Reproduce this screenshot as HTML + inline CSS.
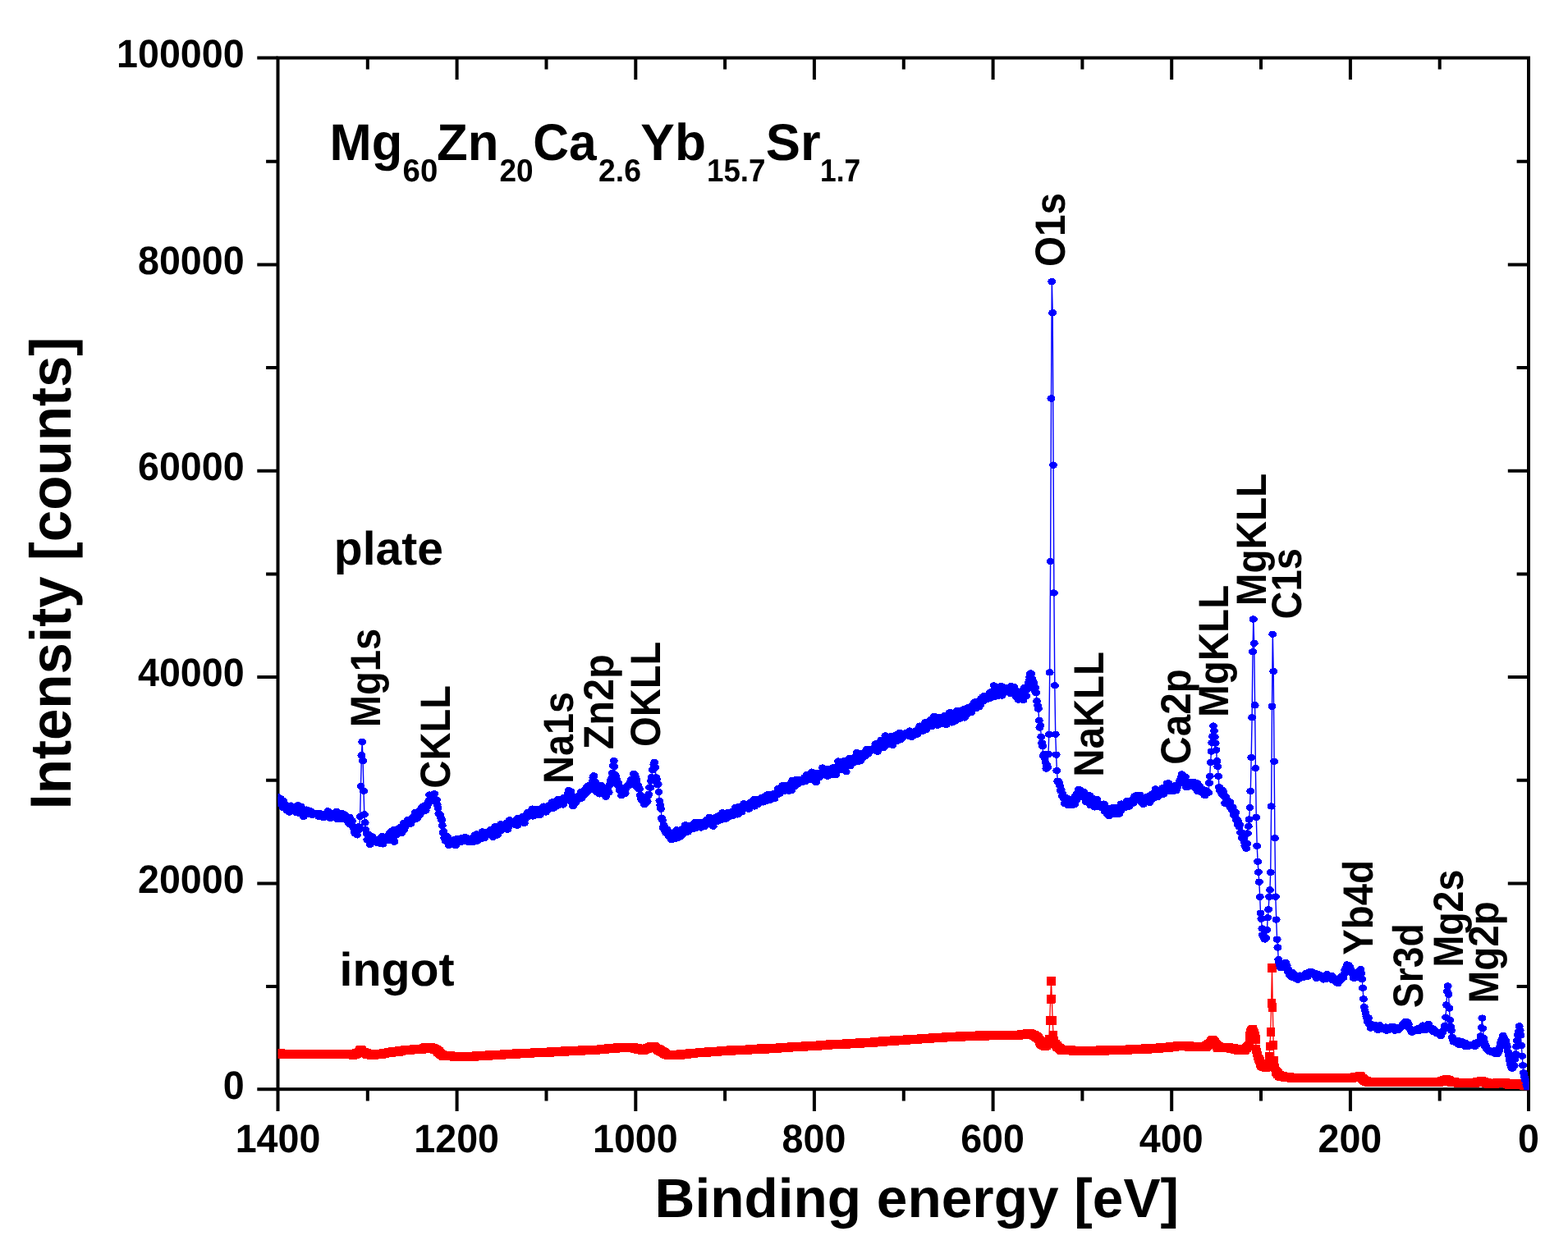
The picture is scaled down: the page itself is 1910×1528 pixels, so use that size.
<!DOCTYPE html>
<html lang="en">
<head>
<meta charset="utf-8">
<title>XPS survey spectra</title>
<style>
html,body{margin:0;padding:0;background:#fff;}
body{width:1910px;height:1528px;overflow:hidden;}
svg{display:block;}
svg text{font-family:"Liberation Sans",Arial,Helvetica,sans-serif;font-weight:bold;fill:#000;text-rendering:geometricPrecision;}
</style>
</head>
<body>
<svg width="1910" height="1528" viewBox="0 0 1910 1528">
<rect width="1910" height="1528" fill="#fff"/>
<rect x="338.5" y="70.5" width="1523.5" height="1256.7" fill="none" stroke="#000" stroke-width="4"/>
<path d="M338.5 1327.2v26.8M447.8 1327.2v14.3M447.8 70.5v13.9M556.6 1327.2v26.8M556.6 70.5v26.4M665.5 1327.2v14.3M665.5 70.5v13.9M774.3 1327.2v26.8M774.3 70.5v26.4M883.1 1327.2v14.3M883.1 70.5v13.9M991.9 1327.2v26.8M991.9 70.5v26.4M1100.8 1327.2v14.3M1100.8 70.5v13.9M1209.6 1327.2v26.8M1209.6 70.5v26.4M1318.4 1327.2v14.3M1318.4 70.5v13.9M1427.2 1327.2v26.8M1427.2 70.5v26.4M1536 1327.2v14.3M1536 70.5v13.9M1644.9 1327.2v26.8M1644.9 70.5v26.4M1753.7 1327.2v14.3M1753.7 70.5v13.9M1862 1327.2v26.8M338.5 1327.2h-25.2M338.5 1202.1h-14.4M1862 1202.1h-14.4M338.5 1076.5h-25.2M1862 1076.5h-25.2M338.5 950.8h-14.4M1862 950.8h-14.4M338.5 825.1h-25.2M1862 825.1h-25.2M338.5 699.5h-14.4M1862 699.5h-14.4M338.5 573.8h-25.2M1862 573.8h-25.2M338.5 448.1h-14.4M1862 448.1h-14.4M338.5 322.4h-25.2M1862 322.4h-25.2M338.5 196.8h-14.4M1862 196.8h-14.4M338.5 70.5h-25.2" stroke="#000" stroke-width="4" fill="none"/>
<text transform="translate(338.50 1404.3) scale(0.9628 1)" font-size="48.4" text-anchor="middle">1400</text>
<text transform="translate(556.14 1404.3) scale(0.9628 1)" font-size="48.4" text-anchor="middle">1200</text>
<text transform="translate(773.79 1404.3) scale(0.9628 1)" font-size="48.4" text-anchor="middle">1000</text>
<text transform="translate(991.43 1404.3) scale(0.9628 1)" font-size="48.4" text-anchor="middle">800</text>
<text transform="translate(1209.07 1404.3) scale(0.9628 1)" font-size="48.4" text-anchor="middle">600</text>
<text transform="translate(1426.71 1404.3) scale(0.9628 1)" font-size="48.4" text-anchor="middle">400</text>
<text transform="translate(1644.36 1404.3) scale(0.9628 1)" font-size="48.4" text-anchor="middle">200</text>
<text transform="translate(1862.00 1404.3) scale(0.9628 1)" font-size="48.4" text-anchor="middle">0</text>
<text transform="translate(297.6 1338.90) scale(0.9628 1)" font-size="48.4" text-anchor="end">0</text>
<text transform="translate(297.6 1087.56) scale(0.9628 1)" font-size="48.4" text-anchor="end">20000</text>
<text transform="translate(297.6 836.22) scale(0.9628 1)" font-size="48.4" text-anchor="end">40000</text>
<text transform="translate(297.6 584.88) scale(0.9628 1)" font-size="48.4" text-anchor="end">60000</text>
<text transform="translate(297.6 333.54) scale(0.9628 1)" font-size="48.4" text-anchor="end">80000</text>
<text transform="translate(297.6 82.20) scale(0.9628 1)" font-size="48.4" text-anchor="end">100000</text>
<text transform="translate(797.58 1483.20) scale(1.0088 1)" font-size="67">Binding energy [eV]</text>
<text transform="translate(86.10 986.52) rotate(-90) scale(0.9802 1)" font-size="70.5">Intensity [counts]</text>
<text font-size="63"><tspan x="401.49" y="194.8" font-size="63" textLength="88.72" lengthAdjust="spacingAndGlyphs">Mg</tspan><tspan x="490.59" y="220.5" font-size="38.8" textLength="42.68" lengthAdjust="spacingAndGlyphs">60</tspan><tspan x="531.96" y="194.8" font-size="63" textLength="75.47" lengthAdjust="spacingAndGlyphs">Zn</tspan><tspan x="608.52" y="220.5" font-size="38.8" textLength="41.10" lengthAdjust="spacingAndGlyphs">20</tspan><tspan x="649.21" y="194.8" font-size="63" textLength="77.50" lengthAdjust="spacingAndGlyphs">Ca</tspan><tspan x="729.00" y="220.5" font-size="38.8" textLength="51.95" lengthAdjust="spacingAndGlyphs">2.6</tspan><tspan x="780.34" y="194.8" font-size="63" textLength="79.62" lengthAdjust="spacingAndGlyphs">Yb</tspan><tspan x="860.99" y="220.5" font-size="38.8" textLength="71.53" lengthAdjust="spacingAndGlyphs">15.7</tspan><tspan x="932.68" y="194.8" font-size="63" textLength="66.88" lengthAdjust="spacingAndGlyphs">Sr</tspan><tspan x="999.07" y="220.5" font-size="38.8" textLength="49.18" lengthAdjust="spacingAndGlyphs">1.7</tspan></text>
<text transform="translate(406.84 687.90) scale(0.9945 1)" font-size="57.3">plate</text>
<text transform="translate(413.60 1200.50) scale(1.0000 1)" font-size="57.3">ingot</text>
<text transform="translate(462.80 886.35) rotate(-90) scale(0.9153 1)" font-size="51.5">Mg1s</text>
<text transform="translate(548.10 960.63) rotate(-90) scale(0.9146 1)" font-size="51.5">CKLL</text>
<text transform="translate(697.90 954.83) rotate(-90) scale(0.9085 1)" font-size="51.5">Na1s</text>
<text transform="translate(747.00 913.35) rotate(-90) scale(0.9433 1)" font-size="51.5">Zn2p</text>
<text transform="translate(804.20 909.93) rotate(-90) scale(0.9152 1)" font-size="51.5">OKLL</text>
<text transform="translate(1297.20 325.06) rotate(-90) scale(0.9268 1)" font-size="51.5">O1s</text>
<text transform="translate(1344.20 946.87) rotate(-90) scale(0.9210 1)" font-size="51.5">NaKLL</text>
<text transform="translate(1449.70 931.65) rotate(-90) scale(0.9243 1)" font-size="51.5">Ca2p</text>
<text transform="translate(1496.00 873.88) rotate(-90) scale(0.9231 1)" font-size="51.5">MgKLL</text>
<text transform="translate(1541.80 738.19) rotate(-90) scale(0.9248 1)" font-size="51.5">MgKLL</text>
<text transform="translate(1585.00 754.54) rotate(-90) scale(0.9163 1)" font-size="51.5">C1s</text>
<text transform="translate(1672.00 1163.81) rotate(-90) scale(0.9200 1)" font-size="51.5">Yb4d</text>
<text transform="translate(1732.80 1228.23) rotate(-90) scale(0.8986 1)" font-size="51.5">Sr3d</text>
<text transform="translate(1781.60 1178.61) rotate(-90) scale(0.9034 1)" font-size="51.5">Mg2s</text>
<text transform="translate(1824.80 1222.48) rotate(-90) scale(0.9240 1)" font-size="51.5">Mg2p</text>
<clipPath id="c"><rect x="338.5" y="70.5" width="1524.1" height="1257.8"/></clipPath>
<g clip-path="url(#c)" fill="none" shape-rendering="crispEdges">
<path d="M338.5 1284.1L339.4 1283.9L340.2 1283.9L341.1 1284L342 1283.8L342.9 1284L343.7 1283.9L344.6 1284.1L345.5 1284L346.3 1284.3L347.2 1284.1L348.1 1284.3L348.9 1284.1L349.8 1284.3L350.7 1284.1L351.6 1284.2L352.4 1284L353.3 1284.3L354.2 1284.2L355 1284.4L355.9 1284.3L356.8 1284.2L357.7 1284.2L358.5 1284.3L359.4 1284.4L360.3 1284.5L361.1 1284.4L362 1284.4L362.9 1284.2L363.7 1284.5L364.6 1284.4L365.5 1284.7L366.4 1284.3L367.2 1284.7L368.1 1284.4L369 1284.6L369.8 1284.5L370.7 1284.7L371.6 1284.7L372.5 1284.9L373.3 1284.6L374.2 1284.7L375.1 1284.6L375.9 1284.8L376.8 1284.7L377.7 1284.7L378.5 1284.4L379.4 1284.6L380.3 1284.5L381.2 1284.8L382 1284.5L382.9 1284.8L383.8 1284.5L384.6 1284.5L385.5 1284.5L386.4 1284.7L387.3 1284.5L388.1 1284.4L389 1284.5L389.9 1284.5L390.7 1284.2L391.6 1284.5L392.5 1284.2L393.3 1284.4L394.2 1284.6L395.1 1284.8L396 1284.5L396.8 1284.6L397.7 1284.6L398.6 1284.6L399.4 1284.2L400.3 1284.2L401.2 1284.5L402.1 1284.2L402.9 1284L403.8 1284.4L404.7 1284.3L405.5 1284.3L406.4 1284.4L407.3 1284.4L408.1 1284.3L409 1284.5L409.9 1284.2L410.8 1284.4L411.6 1284.5L412.5 1284.3L413.4 1284.2L414.2 1284.5L415.1 1284.2L416 1284.5L416.9 1284.2L417.7 1284.5L418.6 1284.5L419.5 1284.8L420.3 1284.7L421.2 1284.7L422.1 1284.6L422.9 1285.1L423.8 1284.9L424.7 1284.8L425.6 1284.9L426.4 1285L427.3 1285L428.2 1285L429 1285.1L429.9 1285.3L430.8 1285.1L431.7 1285L432.5 1284.4L433.4 1284L434.3 1283.4L435.1 1283.4L436 1283.1L436.9 1282L437.7 1280.5L438.6 1279.7L439.5 1279.6L440.4 1280.5L441.2 1281.3L442.1 1282.1L443 1282.2L443.8 1282.8L444.7 1283.1L445.6 1283.8L446.5 1283.7L447.3 1284.4L448.2 1284.3L449.1 1284.6L449.9 1284.4L450.8 1284.9L451.7 1284.9L452.5 1285.2L453.4 1285L454.3 1285.4L455.2 1285.2L456 1285.4L456.9 1285L457.8 1285.1L458.6 1284.7L459.5 1284.7L460.4 1284.5L461.3 1284.4L462.1 1284.1L463 1284.2L463.9 1283.9L464.7 1284.3L465.6 1284L466.5 1283.9L467.3 1283.6L468.2 1283.4L469.1 1283.3L470 1283.1L470.8 1282.9L471.7 1282.9L472.6 1282.7L473.4 1282.9L474.3 1282.4L475.2 1282.8L476.1 1282.1L476.9 1282.3L477.8 1281.7L478.7 1282.1L479.5 1281.5L480.4 1281.7L481.3 1281.4L482.1 1281.6L483 1281.2L483.9 1281.2L484.8 1280.9L485.6 1281.2L486.5 1280.6L487.4 1280.7L488.2 1280.3L489.1 1280.4L490 1280L490.9 1280.1L491.7 1279.9L492.6 1279.8L493.5 1279.7L494.3 1279.6L495.2 1279.5L496.1 1279.4L496.9 1279.3L497.8 1279.2L498.7 1278.9L499.6 1279.2L500.4 1279L501.3 1279.1L502.2 1278.9L503 1278.9L503.9 1278.4L504.8 1278.8L505.6 1278.5L506.5 1278.6L507.4 1278.5L508.3 1278.4L509.1 1278.4L510 1278.7L510.9 1278.2L511.7 1278.2L512.6 1278.2L513.5 1278.2L514.4 1278L515.2 1278L516.1 1277.3L517 1277.5L517.8 1276.8L518.7 1276.9L519.6 1276.7L520.4 1276.4L521.3 1276.1L522.2 1276L523.1 1276L523.9 1276.5L524.8 1276.7L525.7 1277.1L526.5 1277.2L527.4 1277.8L528.3 1277.9L529.2 1278.4L530 1278.7L530.9 1279L531.8 1279.6L532.6 1280.7L533.5 1281.2L534.4 1281.8L535.2 1282.6L536.1 1283.9L537 1284.6L537.9 1285.1L538.7 1285.8L539.6 1286.6L540.5 1286.4L541.3 1286.3L542.2 1286.6L543.1 1286.7L544 1286.5L544.8 1286.5L545.7 1286.5L546.6 1286.8L547.4 1286.7L548.3 1286.9L549.2 1286.7L550 1287.1L550.9 1286.9L551.8 1286.9L552.7 1286.9L553.5 1287.2L554.4 1287L555.3 1287.4L556.1 1287.1L557 1287.3L557.9 1287.3L558.8 1287.3L559.6 1287.4L560.5 1287.4L561.4 1287.2L562.2 1287.3L563.1 1287.1L564 1287.2L564.8 1287.4L565.7 1287.3L566.6 1287.2L567.5 1287.4L568.3 1287.2L569.2 1287.2L570.1 1287.1L570.9 1287.3L571.8 1287.2L572.7 1287.3L573.6 1287.3L574.4 1287.2L575.3 1287L576.2 1287L577 1287L577.9 1287.2L578.8 1286.9L579.6 1287.1L580.5 1286.8L581.4 1287L582.3 1286.8L583.1 1286.9L584 1286.9L584.9 1286.9L585.7 1286.7L586.6 1286.9L587.5 1286.5L588.4 1286.8L589.2 1286.4L590.1 1286.3L591 1286.2L591.8 1286.4L592.7 1286L593.6 1286.6L594.4 1286.1L595.3 1286.3L596.2 1285.8L597.1 1286.1L597.9 1285.9L598.8 1285.8L599.7 1285.8L600.5 1285.8L601.4 1285.7L602.3 1285.6L603.2 1285.6L604 1285.6L604.9 1285.3L605.8 1285.2L606.6 1285.3L607.5 1285.3L608.4 1285.5L609.2 1285.1L610.1 1285.2L611 1285.3L611.9 1285L612.7 1285.1L613.6 1284.9L614.5 1284.7L615.3 1284.9L616.2 1284.8L617.1 1284.5L618 1284.7L618.8 1284.2L619.7 1284.4L620.6 1284.2L621.4 1284.3L622.3 1284.4L623.2 1284.6L624 1284.2L624.9 1284.2L625.8 1284.1L626.7 1284.1L627.5 1284L628.4 1284.2L629.3 1283.9L630.1 1284L631 1283.8L631.9 1283.9L632.8 1283.8L633.6 1283.7L634.5 1283.5L635.4 1283.7L636.2 1283.6L637.1 1283.5L638 1283.6L638.8 1283.8L639.7 1283.3L640.6 1283.6L641.5 1283L642.3 1283.4L643.2 1283L644.1 1283.5L644.9 1283.2L645.8 1283.3L646.7 1283L647.6 1283L648.4 1283L649.3 1283L650.2 1282.9L651 1282.8L651.9 1282.8L652.8 1282.9L653.6 1282.4L654.5 1282.6L655.4 1282.5L656.3 1282.6L657.1 1282.3L658 1282.6L658.9 1282.3L659.7 1282.5L660.6 1282.1L661.5 1282.3L662.4 1282.3L663.2 1282.1L664.1 1282.2L665 1282.5L665.8 1282.2L666.7 1282L667.6 1282.3L668.4 1282L669.3 1282L670.2 1282.1L671.1 1281.8L671.9 1282L672.8 1281.4L673.7 1281.8L674.5 1281.7L675.4 1281.7L676.3 1281.6L677.2 1281.8L678 1281.6L678.9 1281.5L679.8 1281.5L680.6 1281.6L681.5 1281.3L682.4 1281.4L683.2 1280.9L684.1 1281.1L685 1281.2L685.9 1281L686.7 1281.1L687.6 1281.3L688.5 1280.8L689.3 1280.9L690.2 1280.8L691.1 1281L692 1280.9L692.8 1280.8L693.7 1280.7L694.6 1280.7L695.4 1280.6L696.3 1280.6L697.2 1280.6L698 1280.7L698.9 1280.2L699.8 1280.6L700.7 1280.2L701.5 1280.6L702.4 1280.1L703.3 1280.5L704.1 1280.3L705 1280.5L705.9 1280.1L706.8 1280.2L707.6 1280.1L708.5 1279.9L709.4 1279.9L710.2 1280L711.1 1279.8L712 1279.7L712.8 1279.5L713.7 1279.6L714.6 1279.8L715.5 1279.7L716.3 1279.6L717.2 1279.7L718.1 1279.4L718.9 1279.8L719.8 1279.1L720.7 1279.5L721.6 1279.2L722.4 1279.3L723.3 1279L724.2 1279.1L725 1279L725.9 1279.4L726.8 1279L727.6 1279.1L728.5 1278.9L729.4 1279.1L730.3 1278.9L731.1 1278.9L732 1278.6L732.9 1278.7L733.7 1278.3L734.6 1278.5L735.5 1278.5L736.4 1278.2L737.2 1278L738.1 1277.9L739 1277.9L739.8 1278.1L740.7 1277.7L741.6 1277.8L742.4 1277.7L743.3 1277.6L744.2 1277.5L745.1 1277.4L745.9 1277.4L746.8 1277.5L747.7 1277.2L748.5 1277.2L749.4 1277.5L750.3 1277.1L751.2 1276.9L752 1276.8L752.9 1277.1L753.8 1277.1L754.6 1276.9L755.5 1276.8L756.4 1276.8L757.2 1276.8L758.1 1276.6L759 1276.8L759.9 1276.7L760.7 1276.8L761.6 1276.5L762.5 1276.8L763.3 1276.5L764.2 1276.6L765.1 1276.5L766 1276.6L766.8 1276.5L767.7 1276.6L768.6 1276.4L769.4 1276.3L770.3 1276.4L771.2 1276.7L772 1276.6L772.9 1277.2L773.8 1277.2L774.7 1277.4L775.5 1277.6L776.4 1277.9L777.3 1278.3L778.1 1278.3L779 1278.8L779.9 1278.9L780.8 1279L781.6 1279.6L782.5 1279.6L783.4 1279.3L784.2 1279L785.1 1278.6L786 1278.5L786.8 1278.1L787.7 1277.7L788.6 1277.5L789.5 1276.9L790.3 1276.9L791.2 1276.6L792.1 1276.1L792.9 1275.7L793.8 1275.6L794.7 1275.2L795.5 1274.9L796.4 1275.5L797.3 1276.2L798.2 1276.7L799 1277.1L799.9 1277.9L800.8 1278.6L801.6 1278.5L802.5 1279.3L803.4 1279.8L804.3 1280.3L805.1 1280.7L806 1281.4L806.9 1281.7L807.7 1282.4L808.6 1282.8L809.5 1283.4L810.3 1283.8L811.2 1284.6L812.1 1284.9L813 1285.1L813.8 1285.3L814.7 1285.3L815.6 1285.4L816.4 1285.8L817.3 1285.5L818.2 1285.9L819.1 1285.7L819.9 1285.9L820.8 1285.9L821.7 1286L822.5 1285.7L823.4 1285.8L824.3 1285.5L825.1 1285.5L826 1285.2L826.9 1285.3L827.8 1285.1L828.6 1285.2L829.5 1284.8L830.4 1285.1L831.2 1284.9L832.1 1284.8L833 1284.5L833.9 1284.7L834.7 1284.3L835.6 1284.4L836.5 1284.2L837.3 1284.1L838.2 1284L839.1 1283.9L839.9 1283.8L840.8 1283.9L841.7 1283.7L842.6 1283.7L843.4 1283.4L844.3 1283.5L845.2 1283.3L846 1283.1L846.9 1282.9L847.8 1283.1L848.7 1282.9L849.5 1283L850.4 1283L851.3 1282.9L852.1 1282.8L853 1282.7L853.9 1282.3L854.7 1282.4L855.6 1282.5L856.5 1282.5L857.4 1282.2L858.2 1282.5L859.1 1282.3L860 1282.3L860.8 1282.2L861.7 1282L862.6 1281.8L863.5 1281.7L864.3 1281.9L865.2 1281.6L866.1 1281.6L866.9 1281.7L867.8 1281.6L868.7 1281.3L869.5 1281.3L870.4 1281.3L871.3 1281.4L872.2 1281.3L873 1281L873.9 1281.4L874.8 1281L875.6 1281.2L876.5 1280.9L877.4 1280.9L878.3 1280.8L879.1 1280.7L880 1280.4L880.9 1280.6L881.7 1280.5L882.6 1280.5L883.5 1280.5L884.3 1280.5L885.2 1280.2L886.1 1280.4L887 1280.1L887.8 1280.2L888.7 1279.9L889.6 1280.1L890.4 1279.9L891.3 1280.1L892.2 1280L893.1 1280L893.9 1279.7L894.8 1279.8L895.7 1279.6L896.5 1279.6L897.4 1279.5L898.3 1279.6L899.1 1279.4L900 1279.2L900.9 1279.3L901.8 1279.5L902.6 1279.1L903.5 1279.6L904.4 1279.2L905.2 1279.2L906.1 1279.3L907 1279.1L907.9 1279.3L908.7 1279L909.6 1279L910.5 1279.2L911.3 1278.9L912.2 1279L913.1 1278.6L913.9 1278.8L914.8 1278.7L915.7 1278.9L916.6 1278.3L917.4 1278.8L918.3 1278.3L919.2 1278.5L920 1278.4L920.9 1278.4L921.8 1278.4L922.7 1278.2L923.5 1278.3L924.4 1278.2L925.3 1278.1L926.1 1278.2L927 1277.9L927.9 1278.2L928.7 1278.2L929.6 1278L930.5 1277.7L931.4 1278.2L932.2 1278L933.1 1277.6L934 1277.6L934.8 1277.6L935.7 1277.6L936.6 1277.6L937.5 1277.3L938.3 1277.5L939.2 1277.5L940.1 1277.3L940.9 1277.3L941.8 1277.4L942.7 1277.3L943.5 1277.3L944.4 1277.1L945.3 1277L946.2 1276.9L947 1277.2L947.9 1276.9L948.8 1277.1L949.6 1276.6L950.5 1276.9L951.4 1276.6L952.3 1276.6L953.1 1276.4L954 1276.8L954.9 1276.5L955.7 1276.5L956.6 1276.3L957.5 1276.5L958.3 1276.1L959.2 1276.4L960.1 1276.1L961 1276.1L961.8 1276L962.7 1276L963.6 1275.7L964.4 1275.9L965.3 1275.7L966.2 1275.8L967.1 1275.6L967.9 1275.7L968.8 1275.6L969.7 1275.5L970.5 1275.1L971.4 1275.8L972.3 1275.4L973.1 1275.5L974 1275.4L974.9 1275.5L975.8 1275.3L976.6 1275.4L977.5 1275.1L978.4 1275.2L979.2 1274.9L980.1 1275L981 1274.3L981.9 1275.1L982.7 1274.7L983.6 1274.7L984.5 1274.7L985.3 1274.6L986.2 1274.5L987.1 1274.4L987.9 1274.2L988.8 1274.6L989.7 1274.2L990.6 1274.1L991.4 1274.2L992.3 1274.3L993.2 1274L994 1274.2L994.9 1274.1L995.8 1274.2L996.7 1273.9L997.5 1274L998.4 1273.9L999.3 1273.8L1000.1 1273.5L1001 1273.6L1001.9 1273.9L1002.7 1273.4L1003.6 1273.3L1004.5 1273.2L1005.4 1273.2L1006.2 1273.3L1007.1 1273.1L1008 1273.3L1008.8 1273.2L1009.7 1273.1L1010.6 1272.8L1011.5 1272.9L1012.3 1272.8L1013.2 1272.8L1014.1 1272.7L1014.9 1272.9L1015.8 1272.6L1016.7 1273L1017.5 1272.3L1018.4 1272.6L1019.3 1272.6L1020.2 1272.4L1021 1272.1L1021.9 1272.7L1022.8 1272.4L1023.6 1272.4L1024.5 1272.3L1025.4 1272.1L1026.3 1271.9L1027.1 1272.4L1028 1272L1028.9 1271.9L1029.7 1271.9L1030.6 1272.2L1031.5 1271.6L1032.3 1271.7L1033.2 1271.4L1034.1 1271.8L1035 1271.6L1035.8 1271.7L1036.7 1271.5L1037.6 1271.6L1038.4 1271.4L1039.3 1271.5L1040.2 1271.5L1041.1 1271.5L1041.9 1271.3L1042.8 1271.1L1043.7 1271.1L1044.5 1271.4L1045.4 1271.1L1046.3 1271.4L1047.1 1270.8L1048 1271.2L1048.9 1270.8L1049.8 1271L1050.6 1270.7L1051.5 1270.8L1052.4 1270.6L1053.2 1270.9L1054.1 1270.8L1055 1270.6L1055.9 1270.5L1056.7 1270.5L1057.6 1270.3L1058.5 1270.6L1059.3 1270.2L1060.2 1270.3L1061.1 1270.3L1061.9 1270.3L1062.8 1270.1L1063.7 1270.1L1064.6 1269.8L1065.4 1270.1L1066.3 1269.7L1067.2 1269.9L1068 1269.6L1068.9 1269.9L1069.8 1269.5L1070.7 1269.7L1071.5 1269.1L1072.4 1269.5L1073.3 1269.2L1074.1 1269.3L1075 1268.8L1075.9 1269.3L1076.7 1268.9L1077.6 1269L1078.5 1269L1079.4 1268.9L1080.2 1268.8L1081.1 1268.6L1082 1268.7L1082.8 1268.7L1083.7 1268.5L1084.6 1268.4L1085.5 1268.3L1086.3 1268.4L1087.2 1268.4L1088.1 1268.2L1088.9 1267.8L1089.8 1268.3L1090.7 1267.7L1091.5 1268L1092.4 1267.9L1093.3 1268.1L1094.2 1267.7L1095 1267.8L1095.9 1267.5L1096.8 1267.6L1097.6 1267.4L1098.5 1267.5L1099.4 1267.1L1100.2 1267.4L1101.1 1267.3L1102 1267.3L1102.9 1267L1103.7 1267.2L1104.6 1266.8L1105.5 1267L1106.3 1267.1L1107.2 1267L1108.1 1266.8L1109 1266.7L1109.8 1266.4L1110.7 1266.5L1111.6 1266.4L1112.4 1266.7L1113.3 1266.3L1114.2 1266.5L1115 1266.1L1115.9 1266.3L1116.8 1266.1L1117.7 1266.6L1118.5 1265.9L1119.4 1265.9L1120.3 1265.9L1121.1 1265.9L1122 1265.8L1122.9 1265.7L1123.8 1265.7L1124.6 1265.6L1125.5 1265.5L1126.4 1265.5L1127.2 1265.2L1128.1 1265.5L1129 1265.3L1129.8 1265L1130.7 1265.2L1131.6 1265.3L1132.5 1265L1133.3 1265.1L1134.2 1264.9L1135.1 1265L1135.9 1264.7L1136.8 1265L1137.7 1264.8L1138.6 1264.6L1139.4 1264.5L1140.3 1264.5L1141.2 1264.3L1142 1264.6L1142.9 1264.3L1143.8 1264.4L1144.6 1264.1L1145.5 1264.7L1146.4 1264.3L1147.3 1264.3L1148.1 1264L1149 1264.4L1149.9 1264.1L1150.7 1264.1L1151.6 1263.8L1152.5 1263.8L1153.4 1263.9L1154.2 1264.1L1155.1 1264L1156 1263.8L1156.8 1263.7L1157.7 1263.4L1158.6 1263.6L1159.4 1263.5L1160.3 1263.3L1161.2 1263.4L1162.1 1263.2L1162.9 1263.4L1163.8 1263.3L1164.7 1263.2L1165.5 1263.1L1166.4 1263.2L1167.3 1263.3L1168.2 1263.3L1169 1262.9L1169.9 1263.2L1170.8 1263.1L1171.6 1263L1172.5 1262.9L1173.4 1263.1L1174.2 1262.5L1175.1 1262.8L1176 1262.6L1176.9 1262.9L1177.7 1262.7L1178.6 1262.6L1179.5 1262.2L1180.3 1262.5L1181.2 1262.3L1182.1 1262.4L1183 1262.3L1183.8 1262.2L1184.7 1262.3L1185.6 1262.5L1186.4 1262.4L1187.3 1262.3L1188.2 1262.3L1189 1262.2L1189.9 1262L1190.8 1262.1L1191.7 1262L1192.5 1262L1193.4 1261.7L1194.3 1262.5L1195.1 1261.9L1196 1262.1L1196.9 1261.9L1197.8 1262L1198.6 1261.8L1199.5 1262.2L1200.4 1261.9L1201.2 1262.1L1202.1 1261.6L1203 1262L1203.8 1261.6L1204.7 1261.7L1205.6 1261.8L1206.5 1261.9L1207.3 1261.8L1208.2 1261.9L1209.1 1261.3L1209.9 1261.8L1210.8 1261.8L1211.7 1261.8L1212.6 1261.7L1213.4 1261.9L1214.3 1261.7L1215.2 1261.3L1216 1261.4L1216.9 1261.6L1217.8 1261.4L1218.6 1261.7L1219.5 1261.2L1220.4 1261.2L1221.3 1261.4L1222.1 1261.4L1223 1261.4L1223.9 1261.6L1224.7 1261.3L1225.6 1261.6L1226.5 1261L1227.4 1261.4L1228.2 1261L1229.1 1261.7L1230 1261.2L1230.8 1261.5L1231.7 1261.3L1232.6 1261.5L1233.4 1261.4L1234.3 1261.6L1235.2 1261.3L1236.1 1261.4L1236.9 1261.3L1237.8 1261.1L1238.7 1261.1L1239.5 1261.6L1240.4 1261.3L1241.3 1261.2L1242.2 1261L1243 1261.1L1243.9 1260.9L1244.8 1261.1L1245.6 1260.6L1246.5 1260.8L1247.4 1260.1L1248.2 1260.3L1249.1 1260L1250 1260.1L1250.9 1259.8L1251.7 1259.7L1252.6 1259.5L1253.5 1259.6L1254.3 1259.4L1255.2 1259.7L1256.1 1260L1257 1260.5L1257.8 1261.1L1258.7 1261.5L1259.6 1261.6L1260.4 1262.1L1261.3 1262.3L1262.2 1263.2L1263 1263.1L1263.9 1264.3L1264.8 1265.7L1265.7 1267.6L1266.5 1268.6L1267.4 1270.5L1268.3 1271.3L1269.1 1272.2L1270 1272.7L1270.9 1273.4L1271.8 1274.1L1272.6 1275.1L1273.5 1274.1L1274.4 1273.5L1275.2 1272.6L1276.1 1271.8L1277 1269L1277.8 1266L1278.7 1243.5L1279.6 1217.3L1280.5 1195.7L1281.3 1217L1282.2 1243.5L1283.1 1261.3L1283.9 1268L1284.8 1272L1285.7 1272.8L1286.6 1274L1287.4 1274.5L1288.3 1275.5L1289.2 1276L1290 1276.9L1290.9 1277.4L1291.8 1278.4L1292.6 1279.1L1293.5 1279.2L1294.4 1279.1L1295.3 1279.5L1296.1 1279.2L1297 1279.4L1297.9 1279.3L1298.7 1279.7L1299.6 1279.4L1300.5 1279.6L1301.4 1279.6L1302.2 1279.7L1303.1 1279.6L1304 1280L1304.8 1279.5L1305.7 1280L1306.6 1280L1307.4 1280.2L1308.3 1280L1309.2 1280.2L1310.1 1280L1310.9 1280L1311.8 1280.1L1312.7 1280.3L1313.5 1280.2L1314.4 1280.4L1315.3 1280.4L1316.2 1280.4L1317 1280.4L1317.9 1280.4L1318.8 1280.2L1319.6 1280.3L1320.5 1280.3L1321.4 1280.3L1322.2 1280.3L1323.1 1280.3L1324 1280.4L1324.9 1280.3L1325.7 1280.4L1326.6 1280.3L1327.5 1280.4L1328.3 1280.6L1329.2 1280.5L1330.1 1280.8L1331 1280.3L1331.8 1280.5L1332.7 1280.3L1333.6 1280.5L1334.4 1280.4L1335.3 1280.3L1336.2 1280.1L1337 1280.3L1337.9 1280.3L1338.8 1280.2L1339.7 1279.9L1340.5 1280.2L1341.4 1280.2L1342.3 1280.4L1343.1 1279.9L1344 1280L1344.9 1280L1345.8 1280.2L1346.6 1279.9L1347.5 1280L1348.4 1279.9L1349.2 1279.8L1350.1 1279.9L1351 1279.8L1351.8 1279.5L1352.7 1280L1353.6 1279.7L1354.5 1279.9L1355.3 1279.4L1356.2 1279.8L1357.1 1279.6L1357.9 1279.7L1358.8 1279.5L1359.7 1279.6L1360.6 1279.4L1361.4 1279.4L1362.3 1279.6L1363.2 1279.4L1364 1279.1L1364.9 1279.5L1365.8 1279.2L1366.6 1279.3L1367.5 1279.6L1368.4 1279.4L1369.3 1278.9L1370.1 1279.2L1371 1279L1371.9 1279.2L1372.7 1279.1L1373.6 1279.2L1374.5 1279.2L1375.4 1279L1376.2 1278.8L1377.1 1279.1L1378 1278.9L1378.8 1278.8L1379.7 1278.6L1380.6 1278.9L1381.4 1278.6L1382.3 1278.8L1383.2 1278.6L1384.1 1278.7L1384.9 1278.4L1385.8 1278.5L1386.7 1278.3L1387.5 1278.3L1388.4 1278.3L1389.3 1278.4L1390.2 1278.2L1391 1278.2L1391.9 1278L1392.8 1278.3L1393.6 1278.1L1394.5 1278L1395.4 1277.7L1396.2 1278L1397.1 1277.6L1398 1278.1L1398.9 1277.7L1399.7 1277.9L1400.6 1277.4L1401.5 1277.7L1402.3 1277.5L1403.2 1277.4L1404.1 1277.7L1405 1277.5L1405.8 1277.4L1406.7 1277.4L1407.6 1277.3L1408.4 1277.5L1409.3 1277.2L1410.2 1277.3L1411 1276.9L1411.9 1277.2L1412.8 1276.8L1413.7 1277.1L1414.5 1276.8L1415.4 1276.7L1416.3 1276.9L1417.1 1276.7L1418 1276.5L1418.9 1276.6L1419.7 1276.3L1420.6 1276.5L1421.5 1276.4L1422.4 1276.2L1423.2 1276.1L1424.1 1276.1L1425 1275.6L1425.8 1276L1426.7 1275.7L1427.6 1275.7L1428.5 1275.4L1429.3 1275.4L1430.2 1275.4L1431.1 1275.2L1431.9 1275.1L1432.8 1275L1433.7 1274.9L1434.5 1274.8L1435.4 1274.6L1436.3 1274.9L1437.2 1274.4L1438 1274.5L1438.9 1274.3L1439.8 1274.4L1440.6 1274L1441.5 1274.3L1442.4 1274.1L1443.3 1274.5L1444.1 1274.4L1445 1274.6L1445.9 1274.5L1446.7 1274.8L1447.6 1274.4L1448.5 1275.2L1449.3 1274.6L1450.2 1275.2L1451.1 1274.9L1452 1274.9L1452.8 1274.9L1453.7 1275.1L1454.6 1275.3L1455.4 1275.5L1456.3 1275.8L1457.2 1275.6L1458.1 1275.3L1458.9 1275.7L1459.8 1275.8L1460.7 1275.5L1461.5 1275.3L1462.4 1275.6L1463.3 1275.2L1464.1 1275.5L1465 1275.6L1465.9 1275.7L1466.8 1275.6L1467.6 1275.6L1468.5 1275.6L1469.4 1274.7L1470.2 1274.3L1471.1 1273.4L1472 1272.6L1472.9 1272.2L1473.7 1270.9L1474.6 1270.3L1475.5 1269.2L1476.3 1268.5L1477.2 1267.6L1478.1 1268.8L1478.9 1269.6L1479.8 1270.9L1480.7 1271.9L1481.6 1273.5L1482.4 1274.7L1483.3 1276.1L1484.2 1275.9L1485 1275.7L1485.9 1276L1486.8 1276L1487.7 1276L1488.5 1276.4L1489.4 1275.9L1490.3 1276.4L1491.1 1276.4L1492 1276.6L1492.9 1276.5L1493.7 1276.6L1494.6 1276.9L1495.5 1276.7L1496.4 1276.7L1497.2 1277.1L1498.1 1277L1499 1277.4L1499.8 1277.4L1500.7 1277.4L1501.6 1277.6L1502.5 1277.8L1503.3 1277.9L1504.2 1278.2L1505.1 1278.1L1505.9 1278.5L1506.8 1278.4L1507.7 1279.2L1508.5 1279.1L1509.4 1279.1L1510.3 1278.9L1511.2 1279L1512 1279.2L1512.9 1279.9L1513.8 1279.5L1514.6 1280L1515.5 1279.9L1516.4 1279.2L1517.3 1278L1518.1 1277.1L1519 1276.1L1519.9 1275.1L1520.7 1274.1L1521.6 1268.3L1522.5 1262.1L1523.3 1258.8L1524.2 1256.5L1525.1 1255.4L1526 1254.4L1526.8 1257.3L1527.7 1259.3L1528.6 1261.9L1529.4 1266.5L1530.3 1278.5L1531.2 1282.4L1532.1 1286.8L1532.9 1289.9L1533.8 1291.7L1534.7 1293.7L1535.5 1295.9L1536.4 1297.6L1537.3 1298.4L1538.1 1298.7L1539 1299.3L1539.9 1299.5L1540.8 1300.1L1541.6 1300.4L1542.5 1299.6L1543.4 1298.1L1544.2 1297L1545.1 1296L1546 1287L1546.9 1274.9L1547.7 1257.8L1548.6 1222.6L1549.5 1179.4L1550.3 1227.4L1551.2 1273.4L1552.1 1292.7L1552.9 1301L1553.8 1305.2L1554.7 1306.8L1555.6 1307.4L1556.4 1308.5L1557.3 1309.1L1558.2 1310.3L1559 1310.8L1559.9 1311.5L1560.8 1311.6L1561.7 1311.8L1562.5 1311.8L1563.4 1312.1L1564.3 1312.1L1565.1 1312.2L1566 1312.2L1566.9 1312.4L1567.7 1312.4L1568.6 1312.6L1569.5 1312.6L1570.4 1312.8L1571.2 1312.7L1572.1 1313L1573 1313.2L1573.8 1313.2L1574.7 1313L1575.6 1313.3L1576.5 1313.2L1577.3 1313.2L1578.2 1313.2L1579.1 1313.3L1579.9 1313.3L1580.8 1313.4L1581.7 1313.1L1582.5 1313.3L1583.4 1313.2L1584.3 1313.3L1585.2 1313.3L1586 1313.4L1586.9 1313.3L1587.8 1313.6L1588.6 1313.2L1589.5 1313.4L1590.4 1313.4L1591.3 1313.4L1592.1 1313.4L1593 1313.4L1593.9 1313.3L1594.7 1313.5L1595.6 1313.4L1596.5 1313.5L1597.3 1313.5L1598.2 1313.6L1599.1 1313.5L1600 1313.5L1600.8 1313.4L1601.7 1313.6L1602.6 1313.5L1603.4 1313.8L1604.3 1313.5L1605.2 1313.6L1606.1 1313.5L1606.9 1313.6L1607.8 1313.5L1608.7 1313.6L1609.5 1313.5L1610.4 1313.6L1611.3 1313.5L1612.1 1313.5L1613 1313.4L1613.9 1313.6L1614.8 1313.5L1615.6 1313.5L1616.5 1313.5L1617.4 1313.4L1618.2 1313.4L1619.1 1313.6L1620 1313.4L1620.9 1313.5L1621.7 1313.4L1622.6 1313.4L1623.5 1313.3L1624.3 1313.6L1625.2 1313.4L1626.1 1313.5L1626.9 1313.4L1627.8 1313.4L1628.7 1313.4L1629.6 1313.4L1630.4 1313.3L1631.3 1313.2L1632.2 1313.4L1633 1313.5L1633.9 1313.3L1634.8 1313.4L1635.7 1313.3L1636.5 1313.4L1637.4 1313.3L1638.3 1313.4L1639.1 1313.3L1640 1313.2L1640.9 1313.3L1641.7 1313.4L1642.6 1313.1L1643.5 1313.3L1644.4 1313.2L1645.2 1313.4L1646.1 1313.2L1647 1313.3L1647.8 1313.1L1648.7 1313L1649.6 1312.8L1650.5 1312.7L1651.3 1312.4L1652.2 1312.5L1653.1 1312.1L1653.9 1312.1L1654.8 1311.9L1655.7 1311.6L1656.5 1311.5L1657.4 1312L1658.3 1312.7L1659.2 1313.8L1660 1314.5L1660.9 1315.5L1661.8 1316.3L1662.6 1316.9L1663.5 1317.1L1664.4 1317.5L1665.3 1317.7L1666.1 1318L1667 1318.3L1667.9 1318.6L1668.7 1318.7L1669.6 1318.8L1670.5 1318.8L1671.3 1318.9L1672.2 1318.8L1673.1 1318.9L1674 1318.8L1674.8 1318.8L1675.7 1318.7L1676.6 1318.8L1677.4 1318.6L1678.3 1318.9L1679.2 1318.8L1680.1 1318.8L1680.9 1318.7L1681.8 1318.9L1682.7 1318.9L1683.5 1318.7L1684.4 1318.8L1685.3 1318.8L1686.1 1318.7L1687 1318.9L1687.9 1318.7L1688.8 1318.7L1689.6 1318.7L1690.5 1318.9L1691.4 1318.7L1692.2 1318.8L1693.1 1318.8L1694 1318.8L1694.9 1318.7L1695.7 1318.9L1696.6 1318.8L1697.5 1318.9L1698.3 1318.7L1699.2 1318.9L1700.1 1318.8L1700.9 1318.9L1701.8 1318.7L1702.7 1318.8L1703.6 1318.7L1704.4 1318.9L1705.3 1318.8L1706.2 1318.8L1707 1318.8L1707.9 1318.8L1708.8 1318.8L1709.6 1318.9L1710.5 1318.8L1711.4 1318.9L1712.3 1318.7L1713.1 1318.8L1714 1318.7L1714.9 1318.8L1715.7 1318.8L1716.6 1318.8L1717.5 1318.8L1718.4 1318.9L1719.2 1318.7L1720.1 1318.9L1721 1318.7L1721.8 1318.9L1722.7 1318.7L1723.6 1318.8L1724.4 1318.8L1725.3 1318.8L1726.2 1318.7L1727.1 1318.8L1727.9 1318.7L1728.8 1318.8L1729.7 1318.7L1730.5 1318.8L1731.4 1318.8L1732.3 1318.8L1733.2 1318.7L1734 1318.9L1734.9 1318.8L1735.8 1318.9L1736.6 1318.8L1737.5 1318.9L1738.4 1318.7L1739.2 1318.9L1740.1 1318.7L1741 1318.8L1741.9 1318.8L1742.7 1318.9L1743.6 1318.8L1744.5 1318.8L1745.3 1318.8L1746.2 1318.9L1747.1 1318.8L1748 1318.9L1748.8 1318.8L1749.7 1318.8L1750.6 1318.7L1751.4 1318.8L1752.3 1318.9L1753.2 1318.4L1754 1318.1L1754.9 1317.9L1755.8 1317.6L1756.7 1317.3L1757.5 1317L1758.4 1316.9L1759.3 1316.4L1760.1 1316.3L1761 1315.9L1761.9 1315.8L1762.8 1315.9L1763.6 1316.5L1764.5 1316.8L1765.4 1317.2L1766.2 1317.6L1767.1 1318L1768 1318.3L1768.8 1318.9L1769.7 1318.8L1770.6 1319L1771.5 1318.9L1772.3 1318.8L1773.2 1318.9L1774.1 1319.1L1774.9 1319L1775.8 1319.2L1776.7 1319.1L1777.6 1319.1L1778.4 1319.2L1779.3 1319.3L1780.2 1319.3L1781 1319.3L1781.9 1319.4L1782.8 1319.3L1783.6 1319.4L1784.5 1319.6L1785.4 1319.6L1786.3 1319.6L1787.1 1319.7L1788 1319.6L1788.9 1319.6L1789.7 1319.8L1790.6 1319.8L1791.5 1319.8L1792.4 1319.8L1793.2 1319.9L1794.1 1319.9L1795 1319.8L1795.8 1319.6L1796.7 1319.3L1797.6 1319.1L1798.4 1319.1L1799.3 1318.8L1800.2 1318.7L1801.1 1318.4L1801.9 1318.3L1802.8 1318.2L1803.7 1318L1804.5 1317.8L1805.4 1318.1L1806.3 1318.4L1807.2 1318.6L1808 1318.7L1808.9 1319.1L1809.8 1319.3L1810.6 1319.6L1811.5 1319.8L1812.4 1320.1L1813.2 1320.3L1814.1 1320.6L1815 1320.9L1815.9 1320.9L1816.7 1320.7L1817.6 1320.6L1818.5 1320.4L1819.3 1320.4L1820.2 1320.2L1821.1 1320.2L1822 1320L1822.8 1319.8L1823.7 1319.8L1824.6 1319.8L1825.4 1319.5L1826.3 1319.6L1827.2 1319.4L1828 1319.2L1828.9 1319.1L1829.8 1319L1830.7 1318.9L1831.5 1318.9L1832.4 1319.1L1833.3 1319.4L1834.1 1319.6L1835 1320L1835.9 1320.4L1836.8 1320.7L1837.6 1321L1838.5 1321.3L1839.4 1321.6L1840.2 1322.1L1841.1 1321.8L1842 1321.7L1842.8 1321.4L1843.7 1321.3L1844.6 1321L1845.5 1321.1L1846.3 1320.7L1847.2 1320.7L1848.1 1320.4L1848.9 1320.3L1849.8 1320L1850.7 1320L1851.6 1320.3L1852.4 1320.7L1853.3 1321.2L1854.2 1321.7L1855 1322.1L1855.9 1322.5L1856.8 1322.9L1857.6 1323.4L1858.5 1323.8L1859.4 1324.2L1860.3 1324.6L1861.1 1325.1L1862 1325.4" stroke="#f00" stroke-width="1.3" stroke-linejoin="round" shape-rendering="geometricPrecision"/>
<path transform="scale(1 1.05)" d="M338.5 1223h0M339.4 1222.7h0M340.2 1222.8h0M341.1 1222.9h0M342 1222.7h0M342.9 1222.9h0M343.7 1222.8h0M344.6 1223h0M345.5 1222.9h0M346.3 1223.1h0M347.2 1222.9h0M348.1 1223.2h0M348.9 1223h0M349.8 1223.1h0M350.7 1222.9h0M351.6 1223h0M352.4 1222.8h0M353.3 1223.2h0M354.2 1223h0M355 1223.2h0M355.9 1223.1h0M356.8 1223.1h0M357.7 1223h0M358.5 1223.2h0M359.4 1223.3h0M360.3 1223.3h0M361.1 1223.2h0M362 1223.3h0M362.9 1223.1h0M363.7 1223.3h0M364.6 1223.3h0M365.5 1223.5h0M366.4 1223.1h0M367.2 1223.5h0M368.1 1223.3h0M369 1223.5h0M369.8 1223.4h0M370.7 1223.5h0M371.6 1223.5h0M372.5 1223.7h0M373.3 1223.5h0M374.2 1223.5h0M375.1 1223.5h0M375.9 1223.6h0M376.8 1223.5h0M377.7 1223.6h0M378.5 1223.2h0M379.4 1223.4h0M380.3 1223.3h0M381.2 1223.6h0M382 1223.3h0M382.9 1223.6h0M383.8 1223.4h0M384.6 1223.3h0M385.5 1223.3h0M386.4 1223.5h0M387.3 1223.4h0M388.1 1223.3h0M389 1223.3h0M389.9 1223.4h0M390.7 1223h0M391.6 1223.3h0M392.5 1223h0M393.3 1223.2h0M394.2 1223.4h0M395.1 1223.7h0M396 1223.4h0M396.8 1223.4h0M397.7 1223.4h0M398.6 1223.4h0M399.4 1223.1h0M400.3 1223h0M401.2 1223.3h0M402.1 1223h0M402.9 1222.8h0M403.8 1223.2h0M404.7 1223.2h0M405.5 1223.2h0M406.4 1223.3h0M407.3 1223.3h0M408.1 1223.1h0M409 1223.3h0M409.9 1223h0M410.8 1223.3h0M411.6 1223.4h0M412.5 1223.1h0M413.4 1223.1h0M414.2 1223.3h0M415.1 1223.1h0M416 1223.3h0M416.9 1223h0M417.7 1223.4h0M418.6 1223.3h0M419.5 1223.7h0M420.3 1223.6h0M421.2 1223.6h0M422.1 1223.4h0M422.9 1223.9h0M423.8 1223.7h0M424.7 1223.6h0M425.6 1223.7h0M426.4 1223.8h0M427.3 1223.8h0M428.2 1223.8h0M429 1223.9h0M429.9 1224.1h0M430.8 1223.9h0M431.7 1223.8h0M432.5 1223.2h0M433.4 1222.9h0M434.3 1222.3h0M435.1 1222.3h0M436 1222h0M436.9 1221h0M437.7 1219.5h0M438.6 1218.8h0M439.5 1218.7h0M440.4 1219.5h0M441.2 1220.2h0M442.1 1221h0M443 1221.1h0M443.8 1221.7h0M444.7 1222h0M445.6 1222.7h0M446.5 1222.6h0M447.3 1223.2h0M448.2 1223.2h0M449.1 1223.4h0M449.9 1223.2h0M450.8 1223.8h0M451.7 1223.7h0M452.5 1224h0M453.4 1223.8h0M454.3 1224.2h0M455.2 1224h0M456 1224.2h0M456.9 1223.8h0M457.8 1223.9h0M458.6 1223.6h0M459.5 1223.5h0M460.4 1223.3h0M461.3 1223.2h0M462.1 1223h0M463 1223.1h0M463.9 1222.8h0M464.7 1223.1h0M465.6 1222.8h0M466.5 1222.8h0M467.3 1222.5h0M468.2 1222.3h0M469.1 1222.2h0M470 1222h0M470.8 1221.8h0M471.7 1221.8h0M472.6 1221.6h0M473.4 1221.8h0M474.3 1221.3h0M475.2 1221.7h0M476.1 1221.1h0M476.9 1221.3h0M477.8 1220.7h0M478.7 1221h0M479.5 1220.5h0M480.4 1220.7h0M481.3 1220.4h0M482.1 1220.5h0M483 1220.2h0M483.9 1220.2h0M484.8 1219.9h0M485.6 1220.2h0M486.5 1219.6h0M487.4 1219.7h0M488.2 1219.4h0M489.1 1219.5h0M490 1219.1h0M490.9 1219.1h0M491.7 1219h0M492.6 1218.9h0M493.5 1218.7h0M494.3 1218.6h0M495.2 1218.6h0M496.1 1218.4h0M496.9 1218.4h0M497.8 1218.3h0M498.7 1218h0M499.6 1218.3h0M500.4 1218.1h0M501.3 1218.2h0M502.2 1218h0M503 1218h0M503.9 1217.6h0M504.8 1217.9h0M505.6 1217.6h0M506.5 1217.8h0M507.4 1217.7h0M508.3 1217.5h0M509.1 1217.6h0M510 1217.8h0M510.9 1217.4h0M511.7 1217.3h0M512.6 1217.3h0M513.5 1217.3h0M514.4 1217.2h0M515.2 1217.2h0M516.1 1216.4h0M517 1216.6h0M517.8 1216h0M518.7 1216.1h0M519.6 1215.9h0M520.4 1215.6h0M521.3 1215.3h0M522.2 1215.3h0M523.1 1215.2h0M523.9 1215.7h0M524.8 1215.9h0M525.7 1216.2h0M526.5 1216.4h0M527.4 1217h0M528.3 1217h0M529.2 1217.5h0M530 1217.8h0M530.9 1218.1h0M531.8 1218.6h0M532.6 1219.8h0M533.5 1220.2h0M534.4 1220.8h0M535.2 1221.5h0M536.1 1222.7h0M537 1223.4h0M537.9 1223.9h0M538.7 1224.6h0M539.6 1225.3h0M540.5 1225.2h0M541.3 1225.1h0M542.2 1225.3h0M543.1 1225.4h0M544 1225.2h0M544.8 1225.3h0M545.7 1225.3h0M546.6 1225.5h0M547.4 1225.4h0M548.3 1225.6h0M549.2 1225.5h0M550 1225.8h0M550.9 1225.7h0M551.8 1225.6h0M552.7 1225.6h0M553.5 1225.9h0M554.4 1225.7h0M555.3 1226.1h0M556.1 1225.8h0M557 1226h0M557.9 1226h0M558.8 1226h0M559.6 1226.1h0M560.5 1226.1h0M561.4 1225.9h0M562.2 1226h0M563.1 1225.8h0M564 1225.9h0M564.8 1226.1h0M565.7 1226h0M566.6 1225.9h0M567.5 1226.1h0M568.3 1225.9h0M569.2 1225.9h0M570.1 1225.8h0M570.9 1226h0M571.8 1225.9h0M572.7 1226h0M573.6 1226h0M574.4 1225.9h0M575.3 1225.7h0M576.2 1225.7h0M577 1225.7h0M577.9 1225.9h0M578.8 1225.7h0M579.6 1225.8h0M580.5 1225.5h0M581.4 1225.7h0M582.3 1225.5h0M583.1 1225.7h0M584 1225.6h0M584.9 1225.6h0M585.7 1225.5h0M586.6 1225.6h0M587.5 1225.2h0M588.4 1225.5h0M589.2 1225.2h0M590.1 1225.1h0M591 1225h0M591.8 1225.1h0M592.7 1224.8h0M593.6 1225.3h0M594.4 1224.8h0M595.3 1225h0M596.2 1224.6h0M597.1 1224.8h0M597.9 1224.6h0M598.8 1224.6h0M599.7 1224.5h0M600.5 1224.6h0M601.4 1224.4h0M602.3 1224.3h0M603.2 1224.4h0M604 1224.3h0M604.9 1224.1h0M605.8 1224h0M606.6 1224.1h0M607.5 1224.1h0M608.4 1224.3h0M609.2 1223.9h0M610.1 1224h0M611 1224.1h0M611.9 1223.8h0M612.7 1223.9h0M613.6 1223.7h0M614.5 1223.6h0M615.3 1223.7h0M616.2 1223.6h0M617.1 1223.4h0M618 1223.5h0M618.8 1223h0M619.7 1223.3h0M620.6 1223.1h0M621.4 1223.1h0M622.3 1223.2h0M623.2 1223.4h0M624 1223h0M624.9 1223.1h0M625.8 1223h0M626.7 1223h0M627.5 1222.9h0M628.4 1223h0M629.3 1222.7h0M630.1 1222.8h0M631 1222.7h0M631.9 1222.8h0M632.8 1222.7h0M633.6 1222.5h0M634.5 1222.4h0M635.4 1222.6h0M636.2 1222.5h0M637.1 1222.4h0M638 1222.5h0M638.8 1222.6h0M639.7 1222.2h0M640.6 1222.5h0M641.5 1221.9h0M642.3 1222.3h0M643.2 1221.9h0M644.1 1222.3h0M644.9 1222.1h0M645.8 1222.2h0M646.7 1221.9h0M647.6 1221.9h0M648.4 1221.9h0M649.3 1221.9h0M650.2 1221.9h0M651 1221.7h0M651.9 1221.7h0M652.8 1221.9h0M653.6 1221.3h0M654.5 1221.6h0M655.4 1221.4h0M656.3 1221.6h0M657.1 1221.2h0M658 1221.5h0M658.9 1221.2h0M659.7 1221.4h0M660.6 1221.1h0M661.5 1221.2h0M662.4 1221.3h0M663.2 1221.1h0M664.1 1221.1h0M665 1221.4h0M665.8 1221.1h0M666.7 1221h0M667.6 1221.2h0M668.4 1221h0M669.3 1221h0M670.2 1221.1h0M671.1 1220.7h0M671.9 1221h0M672.8 1220.4h0M673.7 1220.8h0M674.5 1220.6h0M675.4 1220.7h0M676.3 1220.5h0M677.2 1220.8h0M678 1220.6h0M678.9 1220.5h0M679.8 1220.5h0M680.6 1220.6h0M681.5 1220.3h0M682.4 1220.4h0M683.2 1219.9h0M684.1 1220.1h0M685 1220.2h0M685.9 1220h0M686.7 1220.1h0M687.6 1220.3h0M688.5 1219.8h0M689.3 1219.9h0M690.2 1219.8h0M691.1 1220h0M692 1219.9h0M692.8 1219.8h0M693.7 1219.7h0M694.6 1219.7h0M695.4 1219.6h0M696.3 1219.6h0M697.2 1219.6h0M698 1219.7h0M698.9 1219.2h0M699.8 1219.6h0M700.7 1219.2h0M701.5 1219.6h0M702.4 1219.1h0M703.3 1219.5h0M704.1 1219.3h0M705 1219.5h0M705.9 1219.1h0M706.8 1219.2h0M707.6 1219.2h0M708.5 1219h0M709.4 1218.9h0M710.2 1219h0M711.1 1218.9h0M712 1218.8h0M712.8 1218.6h0M713.7 1218.7h0M714.6 1218.9h0M715.5 1218.8h0M716.3 1218.7h0M717.2 1218.7h0M718.1 1218.5h0M718.9 1218.8h0M719.8 1218.2h0M720.7 1218.5h0M721.6 1218.3h0M722.4 1218.4h0M723.3 1218.1h0M724.2 1218.2h0M725 1218.1h0M725.9 1218.5h0M726.8 1218.1h0M727.6 1218.2h0M728.5 1218h0M729.4 1218.2h0M730.3 1218h0M731.1 1218h0M732 1217.7h0M732.9 1217.8h0M733.7 1217.4h0M734.6 1217.6h0M735.5 1217.6h0M736.4 1217.4h0M737.2 1217.1h0M738.1 1217.1h0M739 1217.1h0M739.8 1217.2h0M740.7 1216.8h0M741.6 1216.9h0M742.4 1216.9h0M743.3 1216.8h0M744.2 1216.7h0M745.1 1216.6h0M745.9 1216.6h0M746.8 1216.7h0M747.7 1216.4h0M748.5 1216.4h0M749.4 1216.6h0M750.3 1216.3h0M751.2 1216.1h0M752 1216h0M752.9 1216.2h0M753.8 1216.3h0M754.6 1216.1h0M755.5 1216h0M756.4 1216h0M757.2 1216h0M758.1 1215.8h0M759 1216h0M759.9 1215.9h0M760.7 1216h0M761.6 1215.7h0M762.5 1216h0M763.3 1215.8h0M764.2 1215.8h0M765.1 1215.7h0M766 1215.8h0M766.8 1215.7h0M767.7 1215.8h0M768.6 1215.6h0M769.4 1215.5h0M770.3 1215.6h0M771.2 1215.9h0M772 1215.8h0M772.9 1216.4h0M773.8 1216.3h0M774.7 1216.6h0M775.5 1216.8h0M776.4 1217h0M777.3 1217.4h0M778.1 1217.5h0M779 1217.9h0M779.9 1218h0M780.8 1218.1h0M781.6 1218.7h0M782.5 1218.6h0M783.4 1218.4h0M784.2 1218.1h0M785.1 1217.8h0M786 1217.6h0M786.8 1217.2h0M787.7 1216.9h0M788.6 1216.7h0M789.5 1216.1h0M790.3 1216.1h0M791.2 1215.9h0M792.1 1215.3h0M792.9 1214.9h0M793.8 1214.9h0M794.7 1214.5h0M795.5 1214.2h0M796.4 1214.7h0M797.3 1215.4h0M798.2 1215.9h0M799 1216.3h0M799.9 1217.1h0M800.8 1217.7h0M801.6 1217.6h0M802.5 1218.3h0M803.4 1218.9h0M804.3 1219.4h0M805.1 1219.7h0M806 1220.4h0M806.9 1220.7h0M807.7 1221.3h0M808.6 1221.7h0M809.5 1222.3h0M810.3 1222.7h0M811.2 1223.4h0M812.1 1223.8h0M813 1223.9h0M813.8 1224.1h0M814.7 1224.1h0M815.6 1224.2h0M816.4 1224.5h0M817.3 1224.3h0M818.2 1224.6h0M819.1 1224.4h0M819.9 1224.7h0M820.8 1224.7h0M821.7 1224.8h0M822.5 1224.5h0M823.4 1224.6h0M824.3 1224.3h0M825.1 1224.3h0M826 1224h0M826.9 1224.1h0M827.8 1223.9h0M828.6 1224h0M829.5 1223.6h0M830.4 1223.9h0M831.2 1223.7h0M832.1 1223.6h0M833 1223.3h0M833.9 1223.5h0M834.7 1223.2h0M835.6 1223.2h0M836.5 1223.1h0M837.3 1223h0M838.2 1222.8h0M839.1 1222.8h0M839.9 1222.7h0M840.8 1222.7h0M841.7 1222.5h0M842.6 1222.5h0M843.4 1222.3h0M844.3 1222.4h0M845.2 1222.2h0M846 1222h0M846.9 1221.8h0M847.8 1222h0M848.7 1221.8h0M849.5 1221.9h0M850.4 1221.9h0M851.3 1221.8h0M852.1 1221.7h0M853 1221.7h0M853.9 1221.3h0M854.7 1221.4h0M855.6 1221.4h0M856.5 1221.4h0M857.4 1221.1h0M858.2 1221.4h0M859.1 1221.3h0M860 1221.2h0M860.8 1221.1h0M861.7 1221h0M862.6 1220.7h0M863.5 1220.7h0M864.3 1220.8h0M865.2 1220.6h0M866.1 1220.5h0M866.9 1220.7h0M867.8 1220.5h0M868.7 1220.3h0M869.5 1220.3h0M870.4 1220.3h0M871.3 1220.4h0M872.2 1220.3h0M873 1220h0M873.9 1220.4h0M874.8 1220h0M875.6 1220.1h0M876.5 1219.9h0M877.4 1219.9h0M878.3 1219.8h0M879.1 1219.7h0M880 1219.4h0M880.9 1219.6h0M881.7 1219.5h0M882.6 1219.5h0M883.5 1219.5h0M884.3 1219.5h0M885.2 1219.3h0M886.1 1219.4h0M887 1219.1h0M887.8 1219.2h0M888.7 1219h0M889.6 1219.1h0M890.4 1218.9h0M891.3 1219.2h0M892.2 1219h0M893.1 1219.1h0M893.9 1218.8h0M894.8 1218.8h0M895.7 1218.7h0M896.5 1218.7h0M897.4 1218.6h0M898.3 1218.7h0M899.1 1218.5h0M900 1218.3h0M900.9 1218.4h0M901.8 1218.6h0M902.6 1218.2h0M903.5 1218.7h0M904.4 1218.3h0M905.2 1218.3h0M906.1 1218.3h0M907 1218.2h0M907.9 1218.4h0M908.7 1218.1h0M909.6 1218.1h0M910.5 1218.3h0M911.3 1218h0M912.2 1218.1h0M913.1 1217.8h0M913.9 1217.9h0M914.8 1217.8h0M915.7 1218h0M916.6 1217.4h0M917.4 1217.9h0M918.3 1217.5h0M919.2 1217.6h0M920 1217.5h0M920.9 1217.5h0M921.8 1217.5h0M922.7 1217.3h0M923.5 1217.4h0M924.4 1217.3h0M925.3 1217.2h0M926.1 1217.4h0M927 1217h0M927.9 1217.3h0M928.7 1217.4h0M929.6 1217.1h0M930.5 1216.9h0M931.4 1217.3h0M932.2 1217.1h0M933.1 1216.8h0M934 1216.8h0M934.8 1216.8h0M935.7 1216.7h0M936.6 1216.8h0M937.5 1216.5h0M938.3 1216.7h0M939.2 1216.6h0M940.1 1216.5h0M940.9 1216.4h0M941.8 1216.6h0M942.7 1216.5h0M943.5 1216.5h0M944.4 1216.2h0M945.3 1216.2h0M946.2 1216.1h0M947 1216.4h0M947.9 1216.1h0M948.8 1216.3h0M949.6 1215.9h0M950.5 1216.1h0M951.4 1215.8h0M952.3 1215.8h0M953.1 1215.6h0M954 1216h0M954.9 1215.7h0M955.7 1215.7h0M956.6 1215.5h0M957.5 1215.7h0M958.3 1215.4h0M959.2 1215.7h0M960.1 1215.4h0M961 1215.4h0M961.8 1215.2h0M962.7 1215.2h0M963.6 1215h0M964.4 1215.2h0M965.3 1215h0M966.2 1215.1h0M967.1 1214.8h0M967.9 1214.9h0M968.8 1214.9h0M969.7 1214.8h0M970.5 1214.4h0M971.4 1215h0M972.3 1214.6h0M973.1 1214.7h0M974 1214.7h0M974.9 1214.8h0M975.8 1214.6h0M976.6 1214.6h0M977.5 1214.4h0M978.4 1214.5h0M979.2 1214.2h0M980.1 1214.3h0M981 1213.6h0M981.9 1214.4h0M982.7 1214h0M983.6 1214h0M984.5 1214h0M985.3 1213.9h0M986.2 1213.8h0M987.1 1213.8h0M987.9 1213.5h0M988.8 1213.9h0M989.7 1213.6h0M990.6 1213.5h0M991.4 1213.5h0M992.3 1213.7h0M993.2 1213.3h0M994 1213.5h0M994.9 1213.4h0M995.8 1213.5h0M996.7 1213.2h0M997.5 1213.3h0M998.4 1213.2h0M999.3 1213.1h0M1000.1 1212.9h0M1001 1213h0M1001.9 1213.2h0M1002.7 1212.8h0M1003.6 1212.7h0M1004.5 1212.6h0M1005.4 1212.6h0M1006.2 1212.7h0M1007.1 1212.5h0M1008 1212.7h0M1008.8 1212.6h0M1009.7 1212.5h0M1010.6 1212.2h0M1011.5 1212.3h0M1012.3 1212.2h0M1013.2 1212.2h0M1014.1 1212.1h0M1014.9 1212.3h0M1015.8 1212h0M1016.7 1212.4h0M1017.5 1211.7h0M1018.4 1212h0M1019.3 1212h0M1020.2 1211.8h0M1021 1211.5h0M1021.9 1212.1h0M1022.8 1211.8h0M1023.6 1211.8h0M1024.5 1211.7h0M1025.4 1211.6h0M1026.3 1211.3h0M1027.1 1211.8h0M1028 1211.4h0M1028.9 1211.3h0M1029.7 1211.3h0M1030.6 1211.6h0M1031.5 1211.1h0M1032.3 1211.1h0M1033.2 1210.8h0M1034.1 1211.2h0M1035 1211.1h0M1035.8 1211.1h0M1036.7 1210.9h0M1037.6 1211.1h0M1038.4 1210.8h0M1039.3 1210.9h0M1040.2 1210.9h0M1041.1 1210.9h0M1041.9 1210.8h0M1042.8 1210.6h0M1043.7 1210.5h0M1044.5 1210.9h0M1045.4 1210.6h0M1046.3 1210.8h0M1047.1 1210.3h0M1048 1210.7h0M1048.9 1210.3h0M1049.8 1210.5h0M1050.6 1210.2h0M1051.5 1210.3h0M1052.4 1210.1h0M1053.2 1210.3h0M1054.1 1210.3h0M1055 1210.1h0M1055.9 1210h0M1056.7 1210h0M1057.6 1209.8h0M1058.5 1210.1h0M1059.3 1209.7h0M1060.2 1209.8h0M1061.1 1209.8h0M1061.9 1209.8h0M1062.8 1209.6h0M1063.7 1209.7h0M1064.6 1209.3h0M1065.4 1209.6h0M1066.3 1209.2h0M1067.2 1209.4h0M1068 1209.2h0M1068.9 1209.4h0M1069.8 1209h0M1070.7 1209.2h0M1071.5 1208.7h0M1072.4 1209h0M1073.3 1208.8h0M1074.1 1208.9h0M1075 1208.4h0M1075.9 1208.9h0M1076.7 1208.4h0M1077.6 1208.5h0M1078.5 1208.6h0M1079.4 1208.5h0M1080.2 1208.4h0M1081.1 1208.1h0M1082 1208.2h0M1082.8 1208.3h0M1083.7 1208.1h0M1084.6 1208h0M1085.5 1207.9h0M1086.3 1208h0M1087.2 1208h0M1088.1 1207.8h0M1088.9 1207.4h0M1089.8 1207.9h0M1090.7 1207.4h0M1091.5 1207.6h0M1092.4 1207.5h0M1093.3 1207.7h0M1094.2 1207.3h0M1095 1207.5h0M1095.9 1207.2h0M1096.8 1207.3h0M1097.6 1207h0M1098.5 1207.2h0M1099.4 1206.8h0M1100.2 1207h0M1101.1 1206.9h0M1102 1206.9h0M1102.9 1206.7h0M1103.7 1206.9h0M1104.6 1206.4h0M1105.5 1206.6h0M1106.3 1206.8h0M1107.2 1206.7h0M1108.1 1206.4h0M1109 1206.4h0M1109.8 1206.1h0M1110.7 1206.2h0M1111.6 1206.1h0M1112.4 1206.4h0M1113.3 1206h0M1114.2 1206.2h0M1115 1205.8h0M1115.9 1206h0M1116.8 1205.8h0M1117.7 1206.3h0M1118.5 1205.7h0M1119.4 1205.6h0M1120.3 1205.7h0M1121.1 1205.6h0M1122 1205.5h0M1122.9 1205.4h0M1123.8 1205.4h0M1124.6 1205.3h0M1125.5 1205.2h0M1126.4 1205.2h0M1127.2 1205h0M1128.1 1205.3h0M1129 1205h0M1129.8 1204.8h0M1130.7 1204.9h0M1131.6 1205.1h0M1132.5 1204.8h0M1133.3 1204.9h0M1134.2 1204.7h0M1135.1 1204.8h0M1135.9 1204.4h0M1136.8 1204.8h0M1137.7 1204.6h0M1138.6 1204.4h0M1139.4 1204.3h0M1140.3 1204.3h0M1141.2 1204.1h0M1142 1204.4h0M1142.9 1204.1h0M1143.8 1204.2h0M1144.6 1203.9h0M1145.5 1204.4h0M1146.4 1204.1h0M1147.3 1204.1h0M1148.1 1203.8h0M1149 1204.2h0M1149.9 1203.9h0M1150.7 1203.9h0M1151.6 1203.6h0M1152.5 1203.6h0M1153.4 1203.7h0M1154.2 1203.9h0M1155.1 1203.8h0M1156 1203.6h0M1156.8 1203.5h0M1157.7 1203.2h0M1158.6 1203.4h0M1159.4 1203.3h0M1160.3 1203.1h0M1161.2 1203.2h0M1162.1 1203h0M1162.9 1203.2h0M1163.8 1203.1h0M1164.7 1203.1h0M1165.5 1202.9h0M1166.4 1203.1h0M1167.3 1203.2h0M1168.2 1203.1h0M1169 1202.7h0M1169.9 1203.1h0M1170.8 1203h0M1171.6 1202.8h0M1172.5 1202.7h0M1173.4 1202.9h0M1174.2 1202.4h0M1175.1 1202.7h0M1176 1202.5h0M1176.9 1202.7h0M1177.7 1202.6h0M1178.6 1202.5h0M1179.5 1202.1h0M1180.3 1202.4h0M1181.2 1202.2h0M1182.1 1202.3h0M1183 1202.2h0M1183.8 1202.1h0M1184.7 1202.2h0M1185.6 1202.3h0M1186.4 1202.3h0M1187.3 1202.2h0M1188.2 1202.1h0M1189 1202.1h0M1189.9 1201.9h0M1190.8 1202h0M1191.7 1201.9h0M1192.5 1201.9h0M1193.4 1201.6h0M1194.3 1202.4h0M1195.1 1201.8h0M1196 1202h0M1196.9 1201.8h0M1197.8 1201.9h0M1198.6 1201.7h0M1199.5 1202.1h0M1200.4 1201.8h0M1201.2 1202h0M1202.1 1201.5h0M1203 1201.9h0M1203.8 1201.5h0M1204.7 1201.6h0M1205.6 1201.7h0M1206.5 1201.8h0M1207.3 1201.7h0M1208.2 1201.8h0M1209.1 1201.3h0M1209.9 1201.8h0M1210.8 1201.8h0M1211.7 1201.7h0M1212.6 1201.6h0M1213.4 1201.8h0M1214.3 1201.7h0M1215.2 1201.2h0M1216 1201.3h0M1216.9 1201.5h0M1217.8 1201.3h0M1218.6 1201.6h0M1219.5 1201.1h0M1220.4 1201.1h0M1221.3 1201.3h0M1222.1 1201.4h0M1223 1201.4h0M1223.9 1201.5h0M1224.7 1201.2h0M1225.6 1201.5h0M1226.5 1201h0M1227.4 1201.3h0M1228.2 1201h0M1229.1 1201.6h0M1230 1201.1h0M1230.8 1201.5h0M1231.7 1201.2h0M1232.6 1201.4h0M1233.4 1201.3h0M1234.3 1201.5h0M1235.2 1201.3h0M1236.1 1201.3h0M1236.9 1201.3h0M1237.8 1201.1h0M1238.7 1201h0M1239.5 1201.5h0M1240.4 1201.2h0M1241.3 1201.1h0M1242.2 1201h0M1243 1201h0M1243.9 1200.8h0M1244.8 1201h0M1245.6 1200.6h0M1246.5 1200.7h0M1247.4 1200.1h0M1248.2 1200.3h0M1249.1 1200h0M1250 1200.1h0M1250.9 1199.8h0M1251.7 1199.7h0M1252.6 1199.5h0M1253.5 1199.6h0M1254.3 1199.4h0M1255.2 1199.7h0M1256.1 1200h0M1257 1200.5h0M1257.8 1201h0M1258.7 1201.5h0M1259.6 1201.5h0M1260.4 1202h0M1261.3 1202.2h0M1262.2 1203h0M1263 1203h0M1263.9 1204.1h0M1264.8 1205.4h0M1265.7 1207.2h0M1266.5 1208.2h0M1267.4 1210h0M1268.3 1210.8h0M1269.1 1211.6h0M1270 1212.1h0M1270.9 1212.8h0M1271.8 1213.4h0M1272.6 1214.3h0M1273.5 1213.4h0M1274.4 1212.8h0M1275.2 1212h0M1276.1 1211.2h0M1277 1208.6h0M1277.8 1205.7h0M1278.7 1184.3h0M1279.6 1159.3h0M1280.5 1138.8h0M1281.3 1159h0M1282.2 1184.3h0M1283.1 1201.2h0M1283.9 1207.6h0M1284.8 1211.4h0M1285.7 1212.2h0M1286.6 1213.4h0M1287.4 1213.8h0M1288.3 1214.8h0M1289.2 1215.2h0M1290 1216.1h0M1290.9 1216.5h0M1291.8 1217.5h0M1292.6 1218.2h0M1293.5 1218.3h0M1294.4 1218.2h0M1295.3 1218.5h0M1296.1 1218.3h0M1297 1218.4h0M1297.9 1218.4h0M1298.7 1218.8h0M1299.6 1218.5h0M1300.5 1218.7h0M1301.4 1218.6h0M1302.2 1218.8h0M1303.1 1218.7h0M1304 1219.1h0M1304.8 1218.6h0M1305.7 1219.1h0M1306.6 1219h0M1307.4 1219.3h0M1308.3 1219h0M1309.2 1219.3h0M1310.1 1219h0M1310.9 1219h0M1311.8 1219.1h0M1312.7 1219.3h0M1313.5 1219.2h0M1314.4 1219.5h0M1315.3 1219.5h0M1316.2 1219.4h0M1317 1219.4h0M1317.9 1219.4h0M1318.8 1219.3h0M1319.6 1219.3h0M1320.5 1219.3h0M1321.4 1219.4h0M1322.2 1219.3h0M1323.1 1219.3h0M1324 1219.5h0M1324.9 1219.3h0M1325.7 1219.4h0M1326.6 1219.3h0M1327.5 1219.4h0M1328.3 1219.6h0M1329.2 1219.5h0M1330.1 1219.8h0M1331 1219.3h0M1331.8 1219.5h0M1332.7 1219.4h0M1333.6 1219.5h0M1334.4 1219.5h0M1335.3 1219.4h0M1336.2 1219.1h0M1337 1219.3h0M1337.9 1219.3h0M1338.8 1219.2h0M1339.7 1218.9h0M1340.5 1219.2h0M1341.4 1219.2h0M1342.3 1219.4h0M1343.1 1219h0M1344 1219.1h0M1344.9 1219.1h0M1345.8 1219.2h0M1346.6 1218.9h0M1347.5 1219.1h0M1348.4 1219h0M1349.2 1218.8h0M1350.1 1219h0M1351 1218.8h0M1351.8 1218.5h0M1352.7 1219h0M1353.6 1218.7h0M1354.5 1218.9h0M1355.3 1218.5h0M1356.2 1218.8h0M1357.1 1218.6h0M1357.9 1218.7h0M1358.8 1218.6h0M1359.7 1218.7h0M1360.6 1218.5h0M1361.4 1218.5h0M1362.3 1218.7h0M1363.2 1218.5h0M1364 1218.2h0M1364.9 1218.5h0M1365.8 1218.3h0M1366.6 1218.4h0M1367.5 1218.7h0M1368.4 1218.4h0M1369.3 1218h0M1370.1 1218.3h0M1371 1218.1h0M1371.9 1218.3h0M1372.7 1218.2h0M1373.6 1218.3h0M1374.5 1218.2h0M1375.4 1218.1h0M1376.2 1217.9h0M1377.1 1218.2h0M1378 1218h0M1378.8 1217.9h0M1379.7 1217.7h0M1380.6 1218h0M1381.4 1217.8h0M1382.3 1217.9h0M1383.2 1217.7h0M1384.1 1217.8h0M1384.9 1217.5h0M1385.8 1217.6h0M1386.7 1217.4h0M1387.5 1217.4h0M1388.4 1217.4h0M1389.3 1217.6h0M1390.2 1217.4h0M1391 1217.3h0M1391.9 1217.2h0M1392.8 1217.4h0M1393.6 1217.2h0M1394.5 1217.1h0M1395.4 1216.8h0M1396.2 1217.1h0M1397.1 1216.7h0M1398 1217.3h0M1398.9 1216.8h0M1399.7 1217h0M1400.6 1216.5h0M1401.5 1216.9h0M1402.3 1216.7h0M1403.2 1216.6h0M1404.1 1216.8h0M1405 1216.7h0M1405.8 1216.6h0M1406.7 1216.6h0M1407.6 1216.5h0M1408.4 1216.6h0M1409.3 1216.4h0M1410.2 1216.5h0M1411 1216.1h0M1411.9 1216.4h0M1412.8 1216h0M1413.7 1216.3h0M1414.5 1216h0M1415.4 1215.9h0M1416.3 1216.1h0M1417.1 1215.9h0M1418 1215.7h0M1418.9 1215.8h0M1419.7 1215.5h0M1420.6 1215.7h0M1421.5 1215.6h0M1422.4 1215.4h0M1423.2 1215.3h0M1424.1 1215.4h0M1425 1214.9h0M1425.8 1215.2h0M1426.7 1215h0M1427.6 1214.9h0M1428.5 1214.7h0M1429.3 1214.7h0M1430.2 1214.7h0M1431.1 1214.5h0M1431.9 1214.4h0M1432.8 1214.3h0M1433.7 1214.2h0M1434.5 1214.1h0M1435.4 1213.9h0M1436.3 1214.2h0M1437.2 1213.7h0M1438 1213.8h0M1438.9 1213.6h0M1439.8 1213.7h0M1440.6 1213.4h0M1441.5 1213.6h0M1442.4 1213.4h0M1443.3 1213.8h0M1444.1 1213.7h0M1445 1213.9h0M1445.9 1213.9h0M1446.7 1214.1h0M1447.6 1213.7h0M1448.5 1214.5h0M1449.3 1213.9h0M1450.2 1214.5h0M1451.1 1214.2h0M1452 1214.2h0M1452.8 1214.2h0M1453.7 1214.4h0M1454.6 1214.6h0M1455.4 1214.7h0M1456.3 1215h0M1457.2 1214.8h0M1458.1 1214.6h0M1458.9 1215h0M1459.8 1215.1h0M1460.7 1214.7h0M1461.5 1214.6h0M1462.4 1214.8h0M1463.3 1214.5h0M1464.1 1214.7h0M1465 1214.9h0M1465.9 1215h0M1466.8 1214.8h0M1467.6 1214.8h0M1468.5 1214.8h0M1469.4 1214h0M1470.2 1213.6h0M1471.1 1212.7h0M1472 1212h0M1472.9 1211.7h0M1473.7 1210.4h0M1474.6 1209.8h0M1475.5 1208.7h0M1476.3 1208.1h0M1477.2 1207.3h0M1478.1 1208.4h0M1478.9 1209.2h0M1479.8 1210.3h0M1480.7 1211.4h0M1481.6 1212.8h0M1482.4 1214h0M1483.3 1215.4h0M1484.2 1215.2h0M1485 1215h0M1485.9 1215.3h0M1486.8 1215.2h0M1487.7 1215.2h0M1488.5 1215.7h0M1489.4 1215.2h0M1490.3 1215.6h0M1491.1 1215.6h0M1492 1215.8h0M1492.9 1215.7h0M1493.7 1215.8h0M1494.6 1216.1h0M1495.5 1215.9h0M1496.4 1215.9h0M1497.2 1216.3h0M1498.1 1216.2h0M1499 1216.5h0M1499.8 1216.6h0M1500.7 1216.6h0M1501.6 1216.8h0M1502.5 1216.9h0M1503.3 1217h0M1504.2 1217.3h0M1505.1 1217.2h0M1505.9 1217.6h0M1506.8 1217.5h0M1507.7 1218.3h0M1508.5 1218.2h0M1509.4 1218.2h0M1510.3 1218h0M1511.2 1218.1h0M1512 1218.3h0M1512.9 1218.9h0M1513.8 1218.6h0M1514.6 1219h0M1515.5 1219h0M1516.4 1218.2h0M1517.3 1217.1h0M1518.1 1216.3h0M1519 1215.4h0M1519.9 1214.3h0M1520.7 1213.4h0M1521.6 1207.9h0M1522.5 1202h0M1523.3 1198.8h0M1524.2 1196.7h0M1525.1 1195.6h0M1526 1194.6h0M1526.8 1197.4h0M1527.7 1199.3h0M1528.6 1201.8h0M1529.4 1206.2h0M1530.3 1217.6h0M1531.2 1221.4h0M1532.1 1225.5h0M1532.9 1228.5h0M1533.8 1230.2h0M1534.7 1232.1h0M1535.5 1234.2h0M1536.4 1235.9h0M1537.3 1236.6h0M1538.1 1236.8h0M1539 1237.4h0M1539.9 1237.6h0M1540.8 1238.2h0M1541.6 1238.5h0M1542.5 1237.7h0M1543.4 1236.3h0M1544.2 1235.3h0M1545.1 1234.3h0M1546 1225.7h0M1546.9 1214.2h0M1547.7 1197.9h0M1548.6 1164.4h0M1549.5 1123.2h0M1550.3 1169h0M1551.2 1212.8h0M1552.1 1231.1h0M1552.9 1239h0M1553.8 1243h0M1554.7 1244.6h0M1555.6 1245.1h0M1556.4 1246.2h0M1557.3 1246.8h0M1558.2 1247.9h0M1559 1248.4h0M1559.9 1249.1h0M1560.8 1249.2h0M1561.7 1249.3h0M1562.5 1249.3h0M1563.4 1249.6h0M1564.3 1249.6h0M1565.1 1249.7h0M1566 1249.8h0M1566.9 1249.9h0M1567.7 1249.9h0M1568.6 1250.1h0M1569.5 1250.1h0M1570.4 1250.3h0M1571.2 1250.2h0M1572.1 1250.5h0M1573 1250.7h0M1573.8 1250.6h0M1574.7 1250.5h0M1575.6 1250.7h0M1576.5 1250.6h0M1577.3 1250.7h0M1578.2 1250.7h0M1579.1 1250.7h0M1579.9 1250.8h0M1580.8 1250.9h0M1581.7 1250.6h0M1582.5 1250.8h0M1583.4 1250.6h0M1584.3 1250.7h0M1585.2 1250.8h0M1586 1250.9h0M1586.9 1250.7h0M1587.8 1251h0M1588.6 1250.7h0M1589.5 1250.9h0M1590.4 1250.8h0M1591.3 1250.9h0M1592.1 1250.8h0M1593 1250.8h0M1593.9 1250.8h0M1594.7 1250.9h0M1595.6 1250.8h0M1596.5 1251h0M1597.3 1250.9h0M1598.2 1251.1h0M1599.1 1251h0M1600 1251h0M1600.8 1250.9h0M1601.7 1251.1h0M1602.6 1250.9h0M1603.4 1251.2h0M1604.3 1251h0M1605.2 1251.1h0M1606.1 1250.9h0M1606.9 1251.1h0M1607.8 1251h0M1608.7 1251.1h0M1609.5 1250.9h0M1610.4 1251h0M1611.3 1250.9h0M1612.1 1251h0M1613 1250.9h0M1613.9 1251h0M1614.8 1250.9h0M1615.6 1251h0M1616.5 1250.9h0M1617.4 1250.9h0M1618.2 1250.9h0M1619.1 1251h0M1620 1250.9h0M1620.9 1250.9h0M1621.7 1250.8h0M1622.6 1250.9h0M1623.5 1250.7h0M1624.3 1251.1h0M1625.2 1250.9h0M1626.1 1250.9h0M1626.9 1250.9h0M1627.8 1250.9h0M1628.7 1250.8h0M1629.6 1250.9h0M1630.4 1250.7h0M1631.3 1250.7h0M1632.2 1250.8h0M1633 1250.9h0M1633.9 1250.8h0M1634.8 1250.8h0M1635.7 1250.8h0M1636.5 1250.9h0M1637.4 1250.8h0M1638.3 1250.8h0M1639.1 1250.8h0M1640 1250.7h0M1640.9 1250.8h0M1641.7 1250.8h0M1642.6 1250.6h0M1643.5 1250.7h0M1644.4 1250.7h0M1645.2 1250.8h0M1646.1 1250.7h0M1647 1250.8h0M1647.8 1250.6h0M1648.7 1250.5h0M1649.6 1250.3h0M1650.5 1250.2h0M1651.3 1249.9h0M1652.2 1250h0M1653.1 1249.7h0M1653.9 1249.6h0M1654.8 1249.5h0M1655.7 1249.1h0M1656.5 1249.1h0M1657.4 1249.5h0M1658.3 1250.2h0M1659.2 1251.3h0M1660 1251.9h0M1660.9 1252.9h0M1661.8 1253.6h0M1662.6 1254.2h0M1663.5 1254.4h0M1664.4 1254.8h0M1665.3 1254.9h0M1666.1 1255.3h0M1667 1255.5h0M1667.9 1255.8h0M1668.7 1255.9h0M1669.6 1256h0M1670.5 1256h0M1671.3 1256.1h0M1672.2 1256h0M1673.1 1256.1h0M1674 1256h0M1674.8 1256h0M1675.7 1255.9h0M1676.6 1256h0M1677.4 1255.8h0M1678.3 1256.1h0M1679.2 1256h0M1680.1 1256h0M1680.9 1256h0M1681.8 1256.1h0M1682.7 1256.1h0M1683.5 1255.9h0M1684.4 1256h0M1685.3 1256h0M1686.1 1255.9h0M1687 1256.1h0M1687.9 1255.9h0M1688.8 1255.9h0M1689.6 1255.9h0M1690.5 1256.1h0M1691.4 1255.9h0M1692.2 1256h0M1693.1 1256h0M1694 1256h0M1694.9 1255.9h0M1695.7 1256.1h0M1696.6 1256h0M1697.5 1256.1h0M1698.3 1255.9h0M1699.2 1256.1h0M1700.1 1256h0M1700.9 1256.1h0M1701.8 1255.9h0M1702.7 1256h0M1703.6 1255.9h0M1704.4 1256.1h0M1705.3 1256h0M1706.2 1256h0M1707 1256h0M1707.9 1256h0M1708.8 1256h0M1709.6 1256.1h0M1710.5 1256h0M1711.4 1256.1h0M1712.3 1255.9h0M1713.1 1256h0M1714 1255.9h0M1714.9 1256h0M1715.7 1256h0M1716.6 1256h0M1717.5 1256h0M1718.4 1256.1h0M1719.2 1255.9h0M1720.1 1256.1h0M1721 1255.9h0M1721.8 1256.1h0M1722.7 1255.9h0M1723.6 1256h0M1724.4 1256h0M1725.3 1256h0M1726.2 1255.9h0M1727.1 1256h0M1727.9 1255.9h0M1728.8 1256h0M1729.7 1255.9h0M1730.5 1256h0M1731.4 1256h0M1732.3 1256h0M1733.2 1255.9h0M1734 1256.1h0M1734.9 1256h0M1735.8 1256.1h0M1736.6 1256h0M1737.5 1256.1h0M1738.4 1255.9h0M1739.2 1256.1h0M1740.1 1255.9h0M1741 1256h0M1741.9 1256h0M1742.7 1256.1h0M1743.6 1256h0M1744.5 1256h0M1745.3 1256h0M1746.2 1256.1h0M1747.1 1256h0M1748 1256.1h0M1748.8 1256h0M1749.7 1256h0M1750.6 1255.9h0M1751.4 1256h0M1752.3 1256.1h0M1753.2 1255.7h0M1754 1255.3h0M1754.9 1255.2h0M1755.8 1254.8h0M1756.7 1254.6h0M1757.5 1254.3h0M1758.4 1254.2h0M1759.3 1253.7h0M1760.1 1253.6h0M1761 1253.3h0M1761.9 1253.1h0M1762.8 1253.3h0M1763.6 1253.8h0M1764.5 1254.1h0M1765.4 1254.5h0M1766.2 1254.8h0M1767.1 1255.3h0M1768 1255.5h0M1768.8 1256.1h0M1769.7 1256h0M1770.6 1256.2h0M1771.5 1256.1h0M1772.3 1256h0M1773.2 1256.1h0M1774.1 1256.3h0M1774.9 1256.2h0M1775.8 1256.4h0M1776.7 1256.3h0M1777.6 1256.3h0M1778.4 1256.4h0M1779.3 1256.5h0M1780.2 1256.4h0M1781 1256.5h0M1781.9 1256.6h0M1782.8 1256.5h0M1783.6 1256.5h0M1784.5 1256.7h0M1785.4 1256.7h0M1786.3 1256.8h0M1787.1 1256.8h0M1788 1256.8h0M1788.9 1256.7h0M1789.7 1257h0M1790.6 1256.9h0M1791.5 1257h0M1792.4 1257h0M1793.2 1257.1h0M1794.1 1257h0M1795 1256.9h0M1795.8 1256.8h0M1796.7 1256.5h0M1797.6 1256.3h0M1798.4 1256.2h0M1799.3 1256h0M1800.2 1255.9h0M1801.1 1255.6h0M1801.9 1255.6h0M1802.8 1255.4h0M1803.7 1255.2h0M1804.5 1255h0M1805.4 1255.3h0M1806.3 1255.6h0M1807.2 1255.8h0M1808 1255.9h0M1808.9 1256.3h0M1809.8 1256.5h0M1810.6 1256.7h0M1811.5 1256.9h0M1812.4 1257.2h0M1813.2 1257.4h0M1814.1 1257.8h0M1815 1258h0M1815.9 1258h0M1816.7 1257.8h0M1817.6 1257.7h0M1818.5 1257.5h0M1819.3 1257.5h0M1820.2 1257.3h0M1821.1 1257.4h0M1822 1257.2h0M1822.8 1257h0M1823.7 1256.9h0M1824.6 1257h0M1825.4 1256.7h0M1826.3 1256.7h0M1827.2 1256.6h0M1828 1256.4h0M1828.9 1256.3h0M1829.8 1256.2h0M1830.7 1256.1h0M1831.5 1256.1h0M1832.4 1256.3h0M1833.3 1256.6h0M1834.1 1256.8h0M1835 1257.2h0M1835.9 1257.5h0M1836.8 1257.8h0M1837.6 1258.1h0M1838.5 1258.4h0M1839.4 1258.7h0M1840.2 1259.1h0M1841.1 1258.8h0M1842 1258.8h0M1842.8 1258.5h0M1843.7 1258.4h0M1844.6 1258.1h0M1845.5 1258.2h0M1846.3 1257.9h0M1847.2 1257.8h0M1848.1 1257.5h0M1848.9 1257.4h0M1849.8 1257.1h0M1850.7 1257.1h0M1851.6 1257.5h0M1852.4 1257.9h0M1853.3 1258.3h0M1854.2 1258.8h0M1855 1259.1h0M1855.9 1259.5h0M1856.8 1259.9h0M1857.6 1260.4h0M1858.5 1260.7h0M1859.4 1261.1h0M1860.3 1261.5h0M1861.1 1262h0M1862 1262.2h0" stroke="#f00" stroke-width="10.2" stroke-linecap="square"/>
<path d="M338.5 971.1L339.4 978.6L340.2 977.8L341.1 977.6L342 973.3L342.9 980L343.7 979.1L344.6 984.2L345.5 976.2L346.3 979.6L347.2 982.2L348.1 985.2L348.9 985.6L349.8 987.7L350.7 982.5L351.6 985.2L352.4 989.5L353.3 985.5L354.2 981.6L355 983.9L355.9 984.2L356.8 987.5L357.7 983.6L358.5 987.4L359.4 985.5L360.3 989.7L361.1 988L362 988.9L362.9 981.3L363.7 990.5L364.6 982.5L365.5 988.6L366.4 982.7L367.2 989.3L368.1 984.6L369 990.1L369.8 994.9L370.7 989.7L371.6 989.1L372.5 986.9L373.3 986.6L374.2 992L375.1 987.4L375.9 991.5L376.8 988.1L377.7 988.4L378.5 989.5L379.4 989.2L380.3 993L381.2 990.3L382 990.5L382.9 992L383.8 991.6L384.6 990.9L385.5 992.2L386.4 992.5L387.3 993.3L388.1 994.8L389 990.9L389.9 991.8L390.7 992.9L391.6 995.3L392.5 995.5L393.3 993.6L394.2 993L395.1 995.6L396 992.1L396.8 994.6L397.7 991.5L398.6 992.3L399.4 988.3L400.3 992.5L401.2 991.9L402.1 996.9L402.9 992.6L403.8 995.5L404.7 992L405.5 994.8L406.4 990.7L407.3 995L408.1 994.7L409 992.5L409.9 988.7L410.8 998.2L411.6 991.1L412.5 995.8L413.4 992.8L414.2 990.8L415.1 996.7L416 998L416.9 991.3L417.7 996.1L418.6 992.4L419.5 993.5L420.3 993.2L421.2 998L422.1 997.6L422.9 1000.1L423.8 996.4L424.7 1003.1L425.6 995.9L426.4 1004.2L427.3 1003.9L428.2 1005L429 1000.4L429.9 1007.1L430.8 1008.7L431.7 1013.9L432.5 1015.3L433.4 1013.8L434.3 1014L435.1 1017.4L436 1011.8L436.9 1007.5L437.7 1008L438.6 994.9L439.5 958L440.4 920.3L441.2 903.9L442.1 927L443 963.9L443.8 992.4L444.7 1002.4L445.6 1011L446.5 1016L447.3 1023.2L448.2 1016.3L449.1 1021.3L449.9 1023.1L450.8 1028.9L451.7 1024.6L452.5 1026.8L453.4 1019.3L454.3 1024.8L455.2 1022.6L456 1025.7L456.9 1025.8L457.8 1026.4L458.6 1026L459.5 1026.8L460.4 1022.9L461.3 1026.4L462.1 1024.1L463 1027.6L463.9 1021.5L464.7 1024.6L465.6 1018.9L466.5 1028.3L467.3 1025L468.2 1023.7L469.1 1020L470 1020.4L470.8 1020.5L471.7 1022.8L472.6 1024.2L473.4 1021.9L474.3 1016.3L475.2 1014.6L476.1 1020.4L476.9 1019.8L477.8 1012.3L478.7 1018.8L479.5 1011.4L480.4 1025.6L481.3 1016.8L482.1 1017.7L483 1012.7L483.9 1010.3L484.8 1011.8L485.6 1010.6L486.5 1012.4L487.4 1008.2L488.2 1007.8L489.1 1015.1L490 1012.5L490.9 1007.7L491.7 1003.2L492.6 1010.9L493.5 1007.1L494.3 1004.7L495.2 1001.7L496.1 1003.6L496.9 998.7L497.8 1001.9L498.7 1003L499.6 1003.8L500.4 1003.5L501.3 1000.5L502.2 996.8L503 996.8L503.9 995.3L504.8 994.6L505.6 989.9L506.5 998L507.4 996.2L508.3 996.9L509.1 994.6L510 994.1L510.9 988.2L511.7 992.3L512.6 987.6L513.5 988L514.4 983L515.2 985.7L516.1 985.7L517 987.4L517.8 981.5L518.7 987.6L519.6 980L520.4 982.4L521.3 979.6L522.2 975.9L523.1 968.6L523.9 976.9L524.8 968.9L525.7 975.4L526.5 968.5L527.4 971.7L528.3 969.2L529.2 967.3L530 973.8L530.9 975.6L531.8 974.7L532.6 980.8L533.5 984.6L534.4 991.5L535.2 992.7L536.1 992.9L537 996.5L537.9 998.9L538.7 1005.8L539.6 1014.6L540.5 1012.9L541.3 1021.4L542.2 1019.5L543.1 1024.9L544 1018.7L544.8 1022.3L545.7 1020.6L546.6 1030L547.4 1026.6L548.3 1027.4L549.2 1026.3L550 1028.9L550.9 1026L551.8 1027.4L552.7 1024L553.5 1024.3L554.4 1022.6L555.3 1030.3L556.1 1024.6L557 1025.9L557.9 1022.1L558.8 1025.1L559.6 1022.8L560.5 1023.3L561.4 1022.7L562.2 1025.7L563.1 1020.8L564 1023.6L564.8 1020.5L565.7 1023.2L566.6 1025.2L567.5 1020.5L568.3 1022.8L569.2 1024.9L570.1 1022L570.9 1026.1L571.8 1025.5L572.7 1025.4L573.6 1021.9L574.4 1023.2L575.3 1021.3L576.2 1026.1L577 1020L577.9 1020.7L578.8 1017.4L579.6 1020.2L580.5 1016.5L581.4 1024.7L582.3 1019.9L583.1 1020.9L584 1021.8L584.9 1019.3L585.7 1019.5L586.6 1022.1L587.5 1013.5L588.4 1015.9L589.2 1014.3L590.1 1021L591 1018.9L591.8 1015.4L592.7 1017.6L593.6 1016.7L594.4 1013.6L595.3 1015.6L596.2 1013.1L597.1 1012L597.9 1010.8L598.8 1012.6L599.7 1013.6L600.5 1019.8L601.4 1018.2L602.3 1013.4L603.2 1007L604 1012.5L604.9 1008.1L605.8 1017.5L606.6 1011L607.5 1010.4L608.4 1011.2L609.2 1012.7L610.1 1004.4L611 1009.4L611.9 1007L612.7 1009.9L613.6 1007L614.5 1008.2L615.3 1006.2L616.2 1006.7L617.1 1002.8L618 1010.9L618.8 1004.9L619.7 1007.5L620.6 999.3L621.4 1005.1L622.3 1004.3L623.2 1001.6L624 1004.1L624.9 1002.9L625.8 1001.6L626.7 1002.8L627.5 1000.5L628.4 1005.4L629.3 998.4L630.1 1005.6L631 996.8L631.9 999L632.8 999.8L633.6 998L634.5 996.5L635.4 1002.1L636.2 999.7L637.1 995L638 997.3L638.8 1003L639.7 997.9L640.6 996.7L641.5 992.4L642.3 995.4L643.2 989.9L644.1 994.3L644.9 991.1L645.8 993.4L646.7 993.2L647.6 992.1L648.4 985.7L649.3 994.5L650.2 986.3L651 990.5L651.9 988.2L652.8 990.4L653.6 985.7L654.5 990.3L655.4 993.2L656.3 989.1L657.1 987.1L658 992.6L658.9 988.3L659.7 990.8L660.6 987.8L661.5 983.2L662.4 982.6L663.2 987.5L664.1 985.1L665 989.5L665.8 984.2L666.7 984.9L667.6 982.2L668.4 984.1L669.3 981.9L670.2 985.4L671.1 979.5L671.9 980.8L672.8 977.4L673.7 984.7L674.5 981.9L675.4 983.8L676.3 980.2L677.2 982.7L678 977.3L678.9 981.6L679.8 974L680.6 978.7L681.5 974.1L682.4 980.3L683.2 973.8L684.1 977.6L685 975.5L685.9 980.5L686.7 971.9L687.6 974.1L688.5 975.2L689.3 973L690.2 973.6L691.1 971.6L692 967.1L692.8 963.1L693.7 963.9L694.6 966.4L695.4 964.5L696.3 977.1L697.2 972.3L698 982.3L698.9 971.6L699.8 972.7L700.7 970.9L701.5 977.7L702.4 970.6L703.3 974.8L704.1 971.7L705 970.5L705.9 969.6L706.8 970.4L707.6 964.9L708.5 972.7L709.4 968.6L710.2 969.5L711.1 963.5L712 963.1L712.8 965.8L713.7 966.7L714.6 958.8L715.5 965.1L716.3 957.5L717.2 963.4L718.1 960L718.9 962.1L719.8 955.8L720.7 955.7L721.6 952L722.4 947.8L723.3 945.4L724.2 952L725 953L725.9 961.8L726.8 965.1L727.6 958.7L728.5 963.1L729.4 964.3L730.3 967.4L731.1 966.8L732 956.9L732.9 965L733.7 959.4L734.6 967.6L735.5 960.8L736.4 967.7L737.2 966.1L738.1 970.7L739 967.1L739.8 964L740.7 964L741.6 965.5L742.4 956.9L743.3 954.6L744.2 950.7L745.1 948.3L745.9 942L746.8 933L747.7 927L748.5 934L749.4 943.8L750.3 946L751.2 949.6L752 956.1L752.9 953.9L753.8 958.5L754.6 962.7L755.5 961.5L756.4 959.5L757.2 969.3L758.1 961.4L759 961L759.9 964.3L760.7 964.4L761.6 966.7L762.5 961L763.3 958.4L764.2 957.5L765.1 957.6L766 956.4L766.8 954.5L767.7 955.3L768.6 950.1L769.4 955.5L770.3 950.9L771.2 950L772 942.9L772.9 943.9L773.8 946L774.7 957.8L775.5 950.7L776.4 956.2L777.3 956.7L778.1 961.4L779 961.4L779.9 969L780.8 972.7L781.6 974.7L782.5 973L783.4 974.2L784.2 976.8L785.1 980.2L786 975.3L786.8 978.4L787.7 974.6L788.6 976.7L789.5 969.3L790.3 967.8L791.2 959.6L792.1 959.8L792.9 951.5L793.8 947.1L794.7 938.2L795.5 938L796.4 932L797.3 928.7L798.2 935L799 947.1L799.9 949.7L800.8 956.1L801.6 955.2L802.5 965L803.4 975.9L804.3 980.9L805.1 985.6L806 996.9L806.9 999.4L807.7 1008.7L808.6 1005.3L809.5 1010.8L810.3 1013.4L811.2 1014.9L812.1 1010.3L813 1016.2L813.8 1013.3L814.7 1019.3L815.6 1014L816.4 1016.5L817.3 1016L818.2 1023.2L819.1 1016.4L819.9 1019.5L820.8 1016.1L821.7 1019.4L822.5 1017.9L823.4 1021.5L824.3 1011.4L825.1 1021L826 1014.8L826.9 1016.6L827.8 1020L828.6 1016.3L829.5 1018L830.4 1018.1L831.2 1010.2L832.1 1016.1L833 1013.5L833.9 1013.8L834.7 1005.3L835.6 1012.4L836.5 1009.5L837.3 1009.7L838.2 1013.4L839.1 1010.9L839.9 1007.3L840.8 1009.9L841.7 1005.6L842.6 1008L843.4 1007L844.3 1009.9L845.2 1004.8L846 1008.3L846.9 1002L847.8 1009L848.7 1002.8L849.5 1007.6L850.4 1001.8L851.3 1005.2L852.1 1003.8L853 1002.8L853.9 1008.5L854.7 1004.9L855.6 1001.7L856.5 1002.6L857.4 1005L858.2 1007L859.1 1001.2L860 999.8L860.8 998.7L861.7 1003.9L862.6 998.1L863.5 999L864.3 995.8L865.2 999.3L866.1 998.1L866.9 999L867.8 997.5L868.7 1006.7L869.5 1001.1L870.4 996.9L871.3 997L872.2 999L873 995.3L873.9 1000.7L874.8 994.2L875.6 996.9L876.5 993.7L877.4 997L878.3 997.3L879.1 998.7L880 990.5L880.9 995.3L881.7 991.4L882.6 997.9L883.5 993.4L884.3 997.7L885.2 992.3L886.1 990.5L887 993.1L887.8 995.2L888.7 992.8L889.6 991.1L890.4 991.4L891.3 992.1L892.2 988.7L893.1 993.6L893.9 990.2L894.8 989.5L895.7 984.1L896.5 984.6L897.4 985.8L898.3 992.4L899.1 986.1L900 983L900.9 983L901.8 988.6L902.6 988.2L903.5 989.4L904.4 983.9L905.2 985.9L906.1 979.4L907 983.3L907.9 980.1L908.7 981.6L909.6 980.4L910.5 981.8L911.3 980.3L912.2 985.6L913.1 980.7L913.9 982.4L914.8 977.5L915.7 976.9L916.6 977.1L917.4 981.4L918.3 974.2L919.2 982.4L920 975.2L920.9 979.5L921.8 974.5L922.7 974.8L923.5 979.8L924.4 974.3L925.3 976.2L926.1 975.1L927 973.9L927.9 973.8L928.7 971.5L929.6 977.5L930.5 976.7L931.4 972.3L932.2 971.2L933.1 976.2L934 968.9L934.8 974.9L935.7 967.8L936.6 973.9L937.5 970.2L938.3 974.7L939.2 969.3L940.1 968L940.9 969.4L941.8 967.5L942.7 968.8L943.5 973.2L944.4 967.5L945.3 967.1L946.2 968.1L947 968.1L947.9 961.1L948.8 965.9L949.6 967L950.5 965.1L951.4 962.8L952.3 964.2L953.1 957.3L954 962.9L954.9 961.6L955.7 963.8L956.6 959.4L957.5 957L958.3 962.1L959.2 963.3L960.1 960.6L961 963.9L961.8 955.9L962.7 958.1L963.6 956.9L964.4 963L965.3 950.9L966.2 957.2L967.1 952.4L967.9 958.4L968.8 957.4L969.7 955.5L970.5 949.7L971.4 955.7L972.3 951.5L973.1 950.9L974 953.8L974.9 952.8L975.8 952.6L976.6 950.1L977.5 952.9L978.4 949.1L979.2 952.1L980.1 947.4L981 952.3L981.9 950.4L982.7 944L983.6 950.1L984.5 948.2L985.3 947.4L986.2 945.3L987.1 950L987.9 945.5L988.8 940.6L989.7 944.1L990.6 949L991.4 945.3L992.3 949.9L993.2 942L994 953.2L994.9 945.2L995.8 946.7L996.7 945.3L997.5 947.6L998.4 942L999.3 942.8L1000.1 943.7L1001 944.9L1001.9 935.5L1002.7 940.4L1003.6 941.2L1004.5 943.1L1005.4 940.2L1006.2 944L1007.1 939.3L1008 945.9L1008.8 936.9L1009.7 940.2L1010.6 938.7L1011.5 942.7L1012.3 939.4L1013.2 944.1L1014.1 935.6L1014.9 942.7L1015.8 937.5L1016.7 936.4L1017.5 935.3L1018.4 943.8L1019.3 936.9L1020.2 936.2L1021 927.6L1021.9 934.7L1022.8 931.2L1023.6 935.9L1024.5 938.3L1025.4 936.8L1026.3 932.1L1027.1 931.5L1028 927.3L1028.9 932.6L1029.7 928.3L1030.6 940.3L1031.5 927.6L1032.3 929.8L1033.2 930.8L1034.1 930.7L1035 923.7L1035.8 933.1L1036.7 925.2L1037.6 925.2L1038.4 926.1L1039.3 929.2L1040.2 923.4L1041.1 928.9L1041.9 925.6L1042.8 923.8L1043.7 917.1L1044.5 918.9L1045.4 921.3L1046.3 927.7L1047.1 923.5L1048 927.3L1048.9 924.9L1049.8 922.7L1050.6 921.9L1051.5 917.6L1052.4 919.9L1053.2 921.7L1054.1 916.7L1055 918.4L1055.9 912.9L1056.7 919L1057.6 918.3L1058.5 916.6L1059.3 915.3L1060.2 914.7L1061.1 913.5L1061.9 912.8L1062.8 912.8L1063.7 913.9L1064.6 911.6L1065.4 911.8L1066.3 906.5L1067.2 911.5L1068 911.5L1068.9 915.8L1069.8 907L1070.7 912.8L1071.5 909L1072.4 910.8L1073.3 901.9L1074.1 909.8L1075 902.6L1075.9 911.2L1076.7 906.5L1077.6 908.8L1078.5 896.5L1079.4 908L1080.2 904.5L1081.1 901.9L1082 904.4L1082.8 904.7L1083.7 900.3L1084.6 901.7L1085.5 897.3L1086.3 901.8L1087.2 907.9L1088.1 902.9L1088.9 899.3L1089.8 899.8L1090.7 896.3L1091.5 899.4L1092.4 894.9L1093.3 902.6L1094.2 895.9L1095 901.9L1095.9 892.7L1096.8 901.4L1097.6 895.2L1098.5 900L1099.4 894.2L1100.2 895L1101.1 897.3L1102 895.8L1102.9 893.1L1103.7 894.2L1104.6 893.8L1105.5 895.2L1106.3 893.6L1107.2 896.9L1108.1 890.6L1109 891.7L1109.8 893.3L1110.7 897.8L1111.6 893.7L1112.4 891.7L1113.3 893.1L1114.2 895.6L1115 891.9L1115.9 895.4L1116.8 889.8L1117.7 894.3L1118.5 892.4L1119.4 891.1L1120.3 884.6L1121.1 891L1122 888L1122.9 884.9L1123.8 884.3L1124.6 890.5L1125.5 884.6L1126.4 887.9L1127.2 880.2L1128.1 889L1129 887.5L1129.8 884.7L1130.7 879.3L1131.6 880.8L1132.5 882.6L1133.3 883.1L1134.2 876.7L1135.1 885.4L1135.9 880.5L1136.8 883.1L1137.7 872.9L1138.6 880.6L1139.4 879.1L1140.3 876.9L1141.2 879.4L1142 883.9L1142.9 879.2L1143.8 877.3L1144.6 873.7L1145.5 881.5L1146.4 878L1147.3 881.8L1148.1 878.1L1149 877.5L1149.9 873L1150.7 872L1151.6 875.9L1152.5 883.2L1153.4 871.8L1154.2 874.9L1155.1 874.5L1156 876.8L1156.8 868.2L1157.7 873.1L1158.6 868.5L1159.4 880.4L1160.3 869L1161.2 876.6L1162.1 876L1162.9 879L1163.8 874.1L1164.7 877.7L1165.5 866L1166.4 871.6L1167.3 866.9L1168.2 871.2L1169 875.7L1169.9 866.3L1170.8 868.9L1171.6 866.7L1172.5 870.3L1173.4 873.1L1174.2 864.1L1175.1 874.4L1176 864.9L1176.9 871.4L1177.7 864.7L1178.6 865.1L1179.5 861.8L1180.3 865.5L1181.2 863.8L1182.1 865.4L1183 868L1183.8 863.6L1184.7 858.9L1185.6 861L1186.4 856.8L1187.3 857.7L1188.2 855L1189 863.2L1189.9 856.8L1190.8 858.9L1191.7 856.4L1192.5 861.3L1193.4 856L1194.3 859.2L1195.1 851.4L1196 855L1196.9 849.5L1197.8 854.3L1198.6 848.2L1199.5 852.3L1200.4 848.8L1201.2 851.5L1202.1 847.6L1203 850L1203.8 851.5L1204.7 849.7L1205.6 844L1206.5 850.6L1207.3 843.1L1208.2 846.2L1209.1 845.8L1209.9 843.8L1210.8 835.4L1211.7 848.8L1212.6 847.2L1213.4 842.4L1214.3 840.8L1215.2 848.3L1216 836.9L1216.9 843.3L1217.8 838.5L1218.6 844.7L1219.5 835.9L1220.4 847.6L1221.3 840.9L1222.1 845.5L1223 840L1223.9 838L1224.7 840.2L1225.6 839.9L1226.5 840.3L1227.4 841L1228.2 839L1229.1 842.6L1230 841.8L1230.8 845.1L1231.7 836.2L1232.6 842.4L1233.4 843.1L1234.3 843.6L1235.2 836.9L1236.1 843.4L1236.9 840.4L1237.8 848.8L1238.7 843.9L1239.5 849.5L1240.4 852.6L1241.3 846.7L1242.2 845.5L1243 846.4L1243.9 842.6L1244.8 852.4L1245.6 846.6L1246.5 853.2L1247.4 838.4L1248.2 844.3L1249.1 846.9L1250 848.1L1250.9 840.3L1251.7 839.8L1252.6 832L1253.5 829.7L1254.3 825L1255.2 820.5L1256.1 821.1L1257 827.1L1257.8 832.1L1258.7 830.8L1259.6 835L1260.4 841.4L1261.3 838.2L1262.2 844.2L1263 854.4L1263.9 859.5L1264.8 863.6L1265.7 877.7L1266.5 886.5L1267.4 884.2L1268.3 897.8L1269.1 905.3L1270 909L1270.9 921.4L1271.8 919L1272.6 924.1L1273.5 929L1274.4 936.6L1275.2 932.5L1276.1 935L1277 919L1277.8 894.8L1278.7 819.4L1279.6 684L1280.5 485.5L1281.3 343.1L1282.2 381.1L1283.1 566.6L1283.9 722.5L1284.8 835.3L1285.7 894.8L1286.6 919.6L1287.4 939L1288.3 951.9L1289.2 952.1L1290 953.9L1290.9 957.3L1291.8 963.4L1292.6 962.7L1293.5 970L1294.4 967L1295.3 971.1L1296.1 972.9L1297 979L1297.9 972.4L1298.7 974L1299.6 972.5L1300.5 980.9L1301.4 978L1302.2 976.5L1303.1 976.3L1304 981L1304.8 978.9L1305.7 976.4L1306.6 974.1L1307.4 980.7L1308.3 979.8L1309.2 980.1L1310.1 970L1310.9 974.9L1311.8 966.9L1312.7 967.4L1313.5 962L1314.4 963L1315.3 962.3L1316.2 971L1317 966.3L1317.9 968.8L1318.8 965.1L1319.6 966.3L1320.5 964.9L1321.4 972.9L1322.2 970.1L1323.1 977.2L1324 971.2L1324.9 974.7L1325.7 968.8L1326.6 977.3L1327.5 969.6L1328.3 981.2L1329.2 973.4L1330.1 978.5L1331 972.7L1331.8 978.3L1332.7 974.8L1333.6 983.4L1334.4 978.7L1335.3 978.5L1336.2 974.2L1337 982.2L1337.9 978.6L1338.8 980.4L1339.7 982.2L1340.5 983.6L1341.4 981.9L1342.3 983.5L1343.1 981.1L1344 984.7L1344.9 979.6L1345.8 988.7L1346.6 985.9L1347.5 984.2L1348.4 986.4L1349.2 992.6L1350.1 988.1L1351 994L1351.8 987.3L1352.7 991L1353.6 985L1354.5 989L1355.3 984L1356.2 989.2L1357.1 989.2L1357.9 992.3L1358.8 990.4L1359.7 990.1L1360.6 983.8L1361.4 989.5L1362.3 984.6L1363.2 991.6L1364 988.5L1364.9 988.3L1365.8 979.5L1366.6 983.3L1367.5 981.5L1368.4 981.7L1369.3 981.3L1370.1 984.1L1371 981.1L1371.9 981.9L1372.7 975.7L1373.6 978.2L1374.5 976.6L1375.4 982.6L1376.2 979.7L1377.1 980.4L1378 975.3L1378.8 978.3L1379.7 975L1380.6 978.5L1381.4 973.8L1382.3 970L1383.2 972.6L1384.1 973.5L1384.9 969L1385.8 975.1L1386.7 972.3L1387.5 975L1388.4 968.7L1389.3 976.8L1390.2 975.7L1391 977.8L1391.9 971.7L1392.8 980L1393.6 977L1394.5 977.9L1395.4 974.9L1396.2 975.2L1397.1 970.8L1398 976L1398.9 970.2L1399.7 973.8L1400.6 977.9L1401.5 974L1402.3 969.3L1403.2 967.5L1404.1 968.6L1405 972.9L1405.8 966L1406.7 969.8L1407.6 961.5L1408.4 971.2L1409.3 965L1410.2 971L1411 969.4L1411.9 967.9L1412.8 967.2L1413.7 967.7L1414.5 962.9L1415.4 965.1L1416.3 960.1L1417.1 967.9L1418 963.2L1418.9 960.8L1419.7 961.9L1420.6 960.3L1421.5 954.7L1422.4 964L1423.2 954.4L1424.1 963.7L1425 958.2L1425.8 963L1426.7 959L1427.6 963.7L1428.5 958.6L1429.3 962.2L1430.2 958.3L1431.1 963.5L1431.9 956.7L1432.8 963.2L1433.7 960.4L1434.5 958.3L1435.4 955.5L1436.3 955L1437.2 951.2L1438 953.1L1438.9 947L1439.8 943.5L1440.6 944.1L1441.5 948L1442.4 949.3L1443.3 954.7L1444.1 946.6L1445 959.2L1445.9 953.5L1446.7 955.3L1447.6 953.3L1448.5 958.5L1449.3 956.5L1450.2 956.4L1451.1 954.7L1452 953.2L1452.8 954.7L1453.7 957L1454.6 953.2L1455.4 959.6L1456.3 959L1457.2 961L1458.1 954.2L1458.9 964L1459.8 957.1L1460.7 961.7L1461.5 958.2L1462.4 964.7L1463.3 962.9L1464.1 965.7L1465 962.4L1465.9 965.8L1466.8 962.5L1467.6 969.3L1468.5 962.8L1469.4 967.1L1470.2 963.9L1471.1 965.5L1472 965.9L1472.9 954.1L1473.7 945.8L1474.6 929L1475.5 915.6L1476.3 905L1477.2 897.2L1478.1 884.6L1478.9 890.5L1479.8 898L1480.7 905.5L1481.6 913.9L1482.4 927.3L1483.3 934L1484.2 945.8L1485 959.2L1485.9 963L1486.8 963.9L1487.7 965.9L1488.5 967.4L1489.4 963L1490.3 965.5L1491.1 970.5L1492 978.6L1492.9 971L1493.7 972.7L1494.6 977.3L1495.5 978.5L1496.4 977.1L1497.2 980.8L1498.1 977.3L1499 984.4L1499.8 983.7L1500.7 987L1501.6 983.6L1502.5 992.1L1503.3 988.2L1504.2 994.5L1505.1 990L1505.9 999L1506.8 998.6L1507.7 1005L1508.5 1001.5L1509.4 1007.6L1510.3 1005.1L1511.2 1014.4L1512 1014.4L1512.9 1021L1513.8 1018.2L1514.6 1022.5L1515.5 1025.9L1516.4 1030.7L1517.3 1029L1518.1 1033.7L1519 1028L1519.9 1015.5L1520.7 1006.7L1521.6 998.5L1522.5 984.1L1523.3 964L1524.2 923L1525.1 874.3L1526 794.1L1526.8 754.5L1527.7 783.8L1528.6 859.2L1529.4 936.1L1530.3 995.8L1531.2 1030.8L1532.1 1049.8L1532.9 1062.6L1533.8 1074.6L1534.7 1092.8L1535.5 1112.7L1536.4 1119.6L1537.3 1131.5L1538.1 1139.1L1539 1141L1539.9 1143L1540.8 1144.5L1541.6 1144L1542.5 1143L1543.4 1132.8L1544.2 1118.3L1545.1 1108.3L1546 1092.6L1546.9 1084.4L1547.7 1062.9L1548.6 982.5L1549.5 860.7L1550.3 772.7L1551.2 818L1552.1 927.8L1552.9 1021.2L1553.8 1092.6L1554.7 1120.6L1555.6 1144.7L1556.4 1154.5L1557.3 1169.2L1558.2 1173L1559 1176.5L1559.9 1179.3L1560.8 1175.8L1561.7 1178.8L1562.5 1174.4L1563.4 1177.5L1564.3 1177.6L1565.1 1177.2L1566 1173L1566.9 1180L1567.7 1176.6L1568.6 1184.2L1569.5 1181.4L1570.4 1184.1L1571.2 1188.1L1572.1 1186.9L1573 1187.5L1573.8 1190.5L1574.7 1185.3L1575.6 1189.9L1576.5 1187.6L1577.3 1191.7L1578.2 1189.5L1579.1 1190L1579.9 1190.7L1580.8 1193.7L1581.7 1189.8L1582.5 1192.5L1583.4 1188.6L1584.3 1190.8L1585.2 1189.1L1586 1190.2L1586.9 1189.7L1587.8 1190.6L1588.6 1188.2L1589.5 1189.5L1590.4 1186.4L1591.3 1185.8L1592.1 1187L1593 1189.6L1593.9 1185L1594.7 1185.7L1595.6 1183.8L1596.5 1187.3L1597.3 1184.2L1598.2 1184.7L1599.1 1184.6L1600 1186.2L1600.8 1185.8L1601.7 1187.1L1602.6 1185.9L1603.4 1191.9L1604.3 1190L1605.2 1188L1606.1 1187.4L1606.9 1190.3L1607.8 1188.8L1608.7 1189.4L1609.5 1191.2L1610.4 1189.5L1611.3 1191.4L1612.1 1193.5L1613 1190.3L1613.9 1191.6L1614.8 1190.8L1615.6 1192.6L1616.5 1187.3L1617.4 1190.3L1618.2 1191.1L1619.1 1191.8L1620 1189.4L1620.9 1190.3L1621.7 1188.8L1622.6 1190.4L1623.5 1194.3L1624.3 1190.8L1625.2 1194.1L1626.1 1195.2L1626.9 1193.8L1627.8 1196.4L1628.7 1193.9L1629.6 1198.2L1630.4 1194.3L1631.3 1194.9L1632.2 1192.5L1633 1194.4L1633.9 1190.1L1634.8 1192.7L1635.7 1190L1636.5 1191.2L1637.4 1186.8L1638.3 1182.2L1639.1 1180.3L1640 1182.3L1640.9 1175.5L1641.7 1176.3L1642.6 1176L1643.5 1178.7L1644.4 1178.2L1645.2 1180.8L1646.1 1183L1647 1185.9L1647.8 1187.3L1648.7 1191.5L1649.6 1191.9L1650.5 1191.3L1651.3 1188.3L1652.2 1190.2L1653.1 1187.3L1653.9 1188.4L1654.8 1184.2L1655.7 1185.2L1656.5 1183L1657.4 1181L1658.3 1186L1659.2 1193.1L1660 1203.8L1660.9 1217.3L1661.8 1227L1662.6 1231.1L1663.5 1234.6L1664.4 1238.1L1665.3 1241.1L1666.1 1244.9L1667 1240.4L1667.9 1247.8L1668.7 1248.2L1669.6 1252.5L1670.5 1247.9L1671.3 1250.8L1672.2 1249.9L1673.1 1249.9L1674 1251.2L1674.8 1251.9L1675.7 1249.3L1676.6 1250.4L1677.4 1250.1L1678.3 1254.9L1679.2 1253.5L1680.1 1249.8L1680.9 1249.4L1681.8 1253.8L1682.7 1251.8L1683.5 1252.8L1684.4 1253L1685.3 1254L1686.1 1253.1L1687 1254.4L1687.9 1251.5L1688.8 1255.6L1689.6 1252.2L1690.5 1255.4L1691.4 1253.5L1692.2 1254.1L1693.1 1252.9L1694 1254L1694.9 1250.7L1695.7 1253.7L1696.6 1253.3L1697.5 1252.5L1698.3 1251.4L1699.2 1255.7L1700.1 1254.2L1700.9 1253L1701.8 1254L1702.7 1254.9L1703.6 1254.8L1704.4 1253.9L1705.3 1251.9L1706.2 1251.8L1707 1250.7L1707.9 1250.9L1708.8 1248.1L1709.6 1249.1L1710.5 1246.5L1711.4 1248.8L1712.3 1244.7L1713.1 1244.8L1714 1245.2L1714.9 1249.1L1715.7 1247.8L1716.6 1252.5L1717.5 1253.1L1718.4 1255L1719.2 1257L1720.1 1257.8L1721 1255.6L1721.8 1256L1722.7 1255.2L1723.6 1254.9L1724.4 1254.5L1725.3 1255.2L1726.2 1254.8L1727.1 1255.8L1727.9 1253.1L1728.8 1255.9L1729.7 1254.7L1730.5 1254.5L1731.4 1252L1732.3 1254.5L1733.2 1249.6L1734 1252.8L1734.9 1252.5L1735.8 1255.2L1736.6 1250.4L1737.5 1254.1L1738.4 1253.4L1739.2 1254L1740.1 1247.8L1741 1253.6L1741.9 1251.8L1742.7 1254.6L1743.6 1252.5L1744.5 1253.9L1745.3 1253.5L1746.2 1257.3L1747.1 1255.8L1748 1256.4L1748.8 1256.4L1749.7 1259L1750.6 1258.1L1751.4 1259.5L1752.3 1258.3L1753.2 1260.3L1754 1260.2L1754.9 1262.1L1755.8 1259.3L1756.7 1258.8L1757.5 1258L1758.4 1255.1L1759.3 1254L1760.1 1249.8L1761 1239.5L1761.9 1224.5L1762.8 1207.8L1763.6 1201.5L1764.5 1211.8L1765.4 1228.5L1766.2 1242.9L1767.1 1251L1768 1255.6L1768.8 1263.7L1769.7 1267L1770.6 1269.4L1771.5 1268.5L1772.3 1270L1773.2 1268.9L1774.1 1270.9L1774.9 1271.3L1775.8 1272L1776.7 1268L1777.6 1272.9L1778.4 1271.1L1779.3 1271.4L1780.2 1270.9L1781 1269.3L1781.9 1269.5L1782.8 1273.4L1783.6 1273.2L1784.5 1274.8L1785.4 1271.1L1786.3 1273.4L1787.1 1273.3L1788 1272.8L1788.9 1274.9L1789.7 1273.8L1790.6 1273.5L1791.5 1273.1L1792.4 1273.2L1793.2 1273.8L1794.1 1273.6L1795 1272.4L1795.8 1272.2L1796.7 1274.9L1797.6 1270.6L1798.4 1273.1L1799.3 1271.8L1800.2 1271.9L1801.1 1269.9L1801.9 1271.3L1802.8 1268L1803.7 1262.5L1804.5 1252.1L1805.4 1240.6L1806.3 1253.3L1807.2 1264.8L1808 1270L1808.9 1275.2L1809.8 1273.9L1810.6 1277.4L1811.5 1278.2L1812.4 1279.7L1813.2 1279.3L1814.1 1281.3L1815 1281.1L1815.9 1281.9L1816.7 1282.1L1817.6 1281.1L1818.5 1282L1819.3 1283L1820.2 1280.2L1821.1 1283.7L1822 1280.1L1822.8 1281.3L1823.7 1284L1824.6 1283.8L1825.4 1280.7L1826.3 1279.5L1827.2 1275.1L1828 1270.9L1828.9 1267.9L1829.8 1266.3L1830.7 1261.9L1831.5 1265L1832.4 1264.8L1833.3 1268.9L1834.1 1267.9L1835 1273L1835.9 1275.6L1836.8 1281.4L1837.6 1285.8L1838.5 1291.3L1839.4 1293.5L1840.2 1297.3L1841.1 1300.8L1842 1301.8L1842.8 1301L1843.7 1299.7L1844.6 1298.2L1845.5 1290.4L1846.3 1284.4L1847.2 1275.2L1848.1 1268L1848.9 1261.4L1849.8 1257L1850.7 1250.4L1851.6 1255.8L1852.4 1261.4L1853.3 1274L1854.2 1286.7L1855 1298.2L1855.9 1307.4L1856.8 1312L1857.6 1315.5L1858.5 1316.6L1859.4 1321.3L1860.3 1324L1861.1 1325.9L1862 1327" stroke="#00f" stroke-width="1.4" stroke-linejoin="round" shape-rendering="geometricPrecision"/>
<path transform="scale(1 0.84)" d="M338.5 1156h0M339.4 1165h0M340.2 1164.1h0M341.1 1163.9h0M342 1158.7h0M342.9 1166.7h0M343.7 1165.6h0M344.6 1171.7h0M345.5 1162.1h0M346.3 1166.1h0M347.2 1169.3h0M348.1 1172.9h0M348.9 1173.3h0M349.8 1175.9h0M350.7 1169.6h0M351.6 1172.8h0M352.4 1178h0M353.3 1173.3h0M354.2 1168.6h0M355 1171.3h0M355.9 1171.7h0M356.8 1175.6h0M357.7 1170.9h0M358.5 1175.5h0M359.4 1173.2h0M360.3 1178.2h0M361.1 1176.2h0M362 1177.3h0M362.9 1168.2h0M363.7 1179.2h0M364.6 1169.7h0M365.5 1176.9h0M366.4 1169.8h0M367.2 1177.8h0M368.1 1172.2h0M369 1178.7h0M369.8 1184.4h0M370.7 1178.2h0M371.6 1177.6h0M372.5 1174.8h0M373.3 1174.6h0M374.2 1180.9h0M375.1 1175.5h0M375.9 1180.4h0M376.8 1176.3h0M377.7 1176.7h0M378.5 1178h0M379.4 1177.6h0M380.3 1182.2h0M381.2 1178.9h0M382 1179.2h0M382.9 1180.9h0M383.8 1180.5h0M384.6 1179.7h0M385.5 1181.2h0M386.4 1181.6h0M387.3 1182.4h0M388.1 1184.3h0M389 1179.7h0M389.9 1180.7h0M390.7 1182h0M391.6 1184.8h0M392.5 1185.1h0M393.3 1182.9h0M394.2 1182.2h0M395.1 1185.3h0M396 1181h0M396.8 1184.1h0M397.7 1180.4h0M398.6 1181.4h0M399.4 1176.6h0M400.3 1181.6h0M401.2 1180.9h0M402.1 1186.8h0M402.9 1181.6h0M403.8 1185.1h0M404.7 1181h0M405.5 1184.2h0M406.4 1179.4h0M407.3 1184.6h0M408.1 1184.1h0M409 1181.5h0M409.9 1177.1h0M410.8 1188.3h0M411.6 1179.9h0M412.5 1185.5h0M413.4 1181.9h0M414.2 1179.5h0M415.1 1186.5h0M416 1188.1h0M416.9 1180.1h0M417.7 1185.9h0M418.6 1181.5h0M419.5 1182.8h0M420.3 1182.4h0M421.2 1188h0M422.1 1187.6h0M422.9 1190.6h0M423.8 1186.2h0M424.7 1194.1h0M425.6 1185.5h0M426.4 1195.5h0M427.3 1195.1h0M428.2 1196.5h0M429 1190.9h0M429.9 1198.9h0M430.8 1200.9h0M431.7 1207.1h0M432.5 1208.7h0M433.4 1206.9h0M434.3 1207.2h0M435.1 1211.2h0M436 1204.5h0M436.9 1199.4h0M437.7 1200h0M438.6 1184.4h0M439.5 1140.5h0M440.4 1095.6h0M441.2 1076.1h0M442.1 1103.6h0M443 1147.5h0M443.8 1181.4h0M444.7 1193.3h0M445.6 1203.6h0M446.5 1209.5h0M447.3 1218.1h0M448.2 1209.8h0M449.1 1215.8h0M449.9 1218h0M450.8 1224.9h0M451.7 1219.8h0M452.5 1222.3h0M453.4 1213.5h0M454.3 1220.1h0M455.2 1217.4h0M456 1221.1h0M456.9 1221.2h0M457.8 1221.8h0M458.6 1221.4h0M459.5 1222.4h0M460.4 1217.7h0M461.3 1221.9h0M462.1 1219.2h0M463 1223.3h0M463.9 1216.1h0M464.7 1219.7h0M465.6 1213h0M466.5 1224.2h0M467.3 1220.2h0M468.2 1218.7h0M469.1 1214.2h0M470 1214.8h0M470.8 1214.9h0M471.7 1217.6h0M472.6 1219.3h0M473.4 1216.6h0M474.3 1209.9h0M475.2 1207.9h0M476.1 1214.8h0M476.9 1214.1h0M477.8 1205.2h0M478.7 1212.9h0M479.5 1204h0M480.4 1221h0M481.3 1210.4h0M482.1 1211.6h0M483 1205.6h0M483.9 1202.7h0M484.8 1204.5h0M485.6 1203.1h0M486.5 1205.3h0M487.4 1200.3h0M488.2 1199.8h0M489.1 1208.5h0M490 1205.4h0M490.9 1199.7h0M491.7 1194.3h0M492.6 1203.4h0M493.5 1199h0M494.3 1196h0M495.2 1192.4h0M496.1 1194.8h0M496.9 1188.9h0M497.8 1192.8h0M498.7 1194.1h0M499.6 1195h0M500.4 1194.7h0M501.3 1191h0M502.2 1186.6h0M503 1186.7h0M503.9 1184.9h0M504.8 1184h0M505.6 1178.4h0M506.5 1188.1h0M507.4 1186h0M508.3 1186.8h0M509.1 1184h0M510 1183.5h0M510.9 1176.4h0M511.7 1181.4h0M512.6 1175.8h0M513.5 1176.2h0M514.4 1170.3h0M515.2 1173.5h0M516.1 1173.4h0M517 1175.5h0M517.8 1168.4h0M518.7 1175.7h0M519.6 1166.7h0M520.4 1169.6h0M521.3 1166.2h0M522.2 1161.8h0M523.1 1153.1h0M523.9 1163h0M524.8 1153.4h0M525.7 1161.2h0M526.5 1153h0M527.4 1156.8h0M528.3 1153.8h0M529.2 1151.6h0M530 1159.2h0M530.9 1161.4h0M531.8 1160.4h0M532.6 1167.6h0M533.5 1172.1h0M534.4 1180.4h0M535.2 1181.8h0M536.1 1182h0M537 1186.3h0M537.9 1189.2h0M538.7 1197.4h0M539.6 1207.9h0M540.5 1205.9h0M541.3 1215.9h0M542.2 1213.7h0M543.1 1220.1h0M544 1212.8h0M544.8 1217h0M545.7 1215h0M546.6 1226.2h0M547.4 1222.2h0M548.3 1223.1h0M549.2 1221.8h0M550 1224.9h0M550.9 1221.4h0M551.8 1223.1h0M552.7 1219.1h0M553.5 1219.4h0M554.4 1217.4h0M555.3 1226.5h0M556.1 1219.8h0M557 1221.3h0M557.9 1216.8h0M558.8 1220.4h0M559.6 1217.6h0M560.5 1218.3h0M561.4 1217.5h0M562.2 1221.1h0M563.1 1215.2h0M564 1218.6h0M564.8 1214.9h0M565.7 1218.1h0M566.6 1220.5h0M567.5 1214.9h0M568.3 1217.6h0M569.2 1220.1h0M570.1 1216.7h0M570.9 1221.6h0M571.8 1220.8h0M572.7 1220.8h0M573.6 1216.5h0M574.4 1218.1h0M575.3 1215.8h0M576.2 1221.6h0M577 1214.3h0M577.9 1215.1h0M578.8 1211.2h0M579.6 1214.5h0M580.5 1210.1h0M581.4 1219.9h0M582.3 1214.2h0M583.1 1215.4h0M584 1216.5h0M584.9 1213.5h0M585.7 1213.7h0M586.6 1216.8h0M587.5 1206.5h0M588.4 1209.4h0M589.2 1207.5h0M590.1 1215.5h0M591 1212.9h0M591.8 1208.8h0M592.7 1211.5h0M593.6 1210.4h0M594.4 1206.6h0M595.3 1209.1h0M596.2 1206h0M597.1 1204.7h0M597.9 1203.3h0M598.8 1205.5h0M599.7 1206.7h0M600.5 1214h0M601.4 1212.1h0M602.3 1206.4h0M603.2 1198.8h0M604 1205.4h0M604.9 1200.1h0M605.8 1211.3h0M606.6 1203.6h0M607.5 1202.8h0M608.4 1203.8h0M609.2 1205.6h0M610.1 1195.7h0M611 1201.7h0M611.9 1198.8h0M612.7 1202.3h0M613.6 1198.8h0M614.5 1200.2h0M615.3 1197.9h0M616.2 1198.5h0M617.1 1193.8h0M618 1203.5h0M618.8 1196.3h0M619.7 1199.4h0M620.6 1189.7h0M621.4 1196.6h0M622.3 1195.5h0M623.2 1192.3h0M624 1195.3h0M624.9 1193.9h0M625.8 1192.4h0M626.7 1193.9h0M627.5 1191.1h0M628.4 1196.9h0M629.3 1188.5h0M630.1 1197.2h0M631 1186.7h0M631.9 1189.2h0M632.8 1190.2h0M633.6 1188.1h0M634.5 1186.3h0M635.4 1193h0M636.2 1190.1h0M637.1 1184.5h0M638 1187.3h0M638.8 1194.1h0M639.7 1188h0M640.6 1186.6h0M641.5 1181.4h0M642.3 1185h0M643.2 1178.4h0M644.1 1183.7h0M644.9 1179.8h0M645.8 1182.7h0M646.7 1182.4h0M647.6 1181h0M648.4 1173.4h0M649.3 1183.9h0M650.2 1174.1h0M651 1179.2h0M651.9 1176.4h0M652.8 1179.1h0M653.6 1173.5h0M654.5 1178.9h0M655.4 1182.4h0M656.3 1177.5h0M657.1 1175.1h0M658 1181.7h0M658.9 1176.6h0M659.7 1179.6h0M660.6 1175.9h0M661.5 1170.5h0M662.4 1169.8h0M663.2 1175.6h0M664.1 1172.8h0M665 1178h0M665.8 1171.6h0M666.7 1172.5h0M667.6 1169.3h0M668.4 1171.5h0M669.3 1168.9h0M670.2 1173.1h0M671.1 1166.1h0M671.9 1167.7h0M672.8 1163.5h0M673.7 1172.3h0M674.5 1168.9h0M675.4 1171.2h0M676.3 1166.9h0M677.2 1169.9h0M678 1163.5h0M678.9 1168.5h0M679.8 1159.5h0M680.6 1165.1h0M681.5 1159.7h0M682.4 1167.1h0M683.2 1159.3h0M684.1 1163.8h0M685 1161.4h0M685.9 1167.3h0M686.7 1157h0M687.6 1159.6h0M688.5 1161h0M689.3 1158.3h0M690.2 1159h0M691.1 1156.6h0M692 1151.4h0M692.8 1146.6h0M693.7 1147.5h0M694.6 1150.5h0M695.4 1148.2h0M696.3 1163.2h0M697.2 1157.5h0M698 1169.4h0M698.9 1156.7h0M699.8 1158h0M700.7 1155.8h0M701.5 1163.9h0M702.4 1155.5h0M703.3 1160.5h0M704.1 1156.8h0M705 1155.4h0M705.9 1154.3h0M706.8 1155.2h0M707.6 1148.7h0M708.5 1157.9h0M709.4 1153.1h0M710.2 1154.2h0M711.1 1147h0M712 1146.5h0M712.8 1149.8h0M713.7 1150.9h0M714.6 1141.5h0M715.5 1148.9h0M716.3 1139.9h0M717.2 1146.9h0M718.1 1142.9h0M718.9 1145.4h0M719.8 1137.8h0M720.7 1137.8h0M721.6 1133.3h0M722.4 1128.3h0M723.3 1125.5h0M724.2 1133.3h0M725 1134.5h0M725.9 1145h0M726.8 1149h0M727.6 1141.3h0M728.5 1146.5h0M729.4 1148h0M730.3 1151.7h0M731.1 1150.9h0M732 1139.2h0M732.9 1148.8h0M733.7 1142.1h0M734.6 1151.9h0M735.5 1143.9h0M736.4 1152h0M737.2 1150.2h0M738.1 1155.5h0M739 1151.3h0M739.8 1147.7h0M740.7 1147.6h0M741.6 1149.4h0M742.4 1139.2h0M743.3 1136.5h0M744.2 1131.8h0M745.1 1128.9h0M745.9 1121.4h0M746.8 1110.7h0M747.7 1103.6h0M748.5 1111.9h0M749.4 1123.6h0M750.3 1126.2h0M751.2 1130.5h0M752 1138.2h0M752.9 1135.6h0M753.8 1141h0M754.6 1146.1h0M755.5 1144.6h0M756.4 1142.3h0M757.2 1153.9h0M758.1 1144.5h0M759 1144h0M759.9 1148h0M760.7 1148.1h0M761.6 1150.8h0M762.5 1144.1h0M763.3 1141h0M764.2 1139.9h0M765.1 1139.9h0M766 1138.6h0M766.8 1136.4h0M767.7 1137.3h0M768.6 1131h0M769.4 1137.5h0M770.3 1132h0M771.2 1131h0M772 1122.5h0M772.9 1123.7h0M773.8 1126.2h0M774.7 1140.3h0M775.5 1131.8h0M776.4 1138.3h0M777.3 1138.9h0M778.1 1144.6h0M779 1144.5h0M779.9 1153.5h0M780.8 1158h0M781.6 1160.4h0M782.5 1158.3h0M783.4 1159.7h0M784.2 1162.9h0M785.1 1166.9h0M786 1161.1h0M786.8 1164.7h0M787.7 1160.2h0M788.6 1162.8h0M789.5 1154h0M790.3 1152.1h0M791.2 1142.3h0M792.1 1142.6h0M792.9 1132.7h0M793.8 1127.5h0M794.7 1116.9h0M795.5 1116.7h0M796.4 1109.5h0M797.3 1105.6h0M798.2 1113.1h0M799 1127.5h0M799.9 1130.6h0M800.8 1138.2h0M801.6 1137.1h0M802.5 1148.8h0M803.4 1161.8h0M804.3 1167.7h0M805.1 1173.3h0M806 1186.7h0M806.9 1189.8h0M807.7 1200.8h0M808.6 1196.8h0M809.5 1203.3h0M810.3 1206.4h0M811.2 1208.2h0M812.1 1202.8h0M813 1209.8h0M813.8 1206.3h0M814.7 1213.5h0M815.6 1207.1h0M816.4 1210.1h0M817.3 1209.5h0M818.2 1218.1h0M819.1 1210.1h0M819.9 1213.7h0M820.8 1209.7h0M821.7 1213.5h0M822.5 1211.7h0M823.4 1216.1h0M824.3 1204h0M825.1 1215.5h0M826 1208.1h0M826.9 1210.2h0M827.8 1214.3h0M828.6 1209.8h0M829.5 1212h0M830.4 1212h0M831.2 1202.6h0M832.1 1209.6h0M833 1206.5h0M833.9 1206.9h0M834.7 1196.8h0M835.6 1205.2h0M836.5 1201.8h0M837.3 1202h0M838.2 1206.5h0M839.1 1203.4h0M839.9 1199.2h0M840.8 1202.2h0M841.7 1197.1h0M842.6 1200h0M843.4 1198.8h0M844.3 1202.3h0M845.2 1196.2h0M846 1200.3h0M846.9 1192.9h0M847.8 1201.2h0M848.7 1193.9h0M849.5 1199.5h0M850.4 1192.6h0M851.3 1196.6h0M852.1 1195h0M853 1193.8h0M853.9 1200.6h0M854.7 1196.4h0M855.6 1192.5h0M856.5 1193.5h0M857.4 1196.4h0M858.2 1198.8h0M859.1 1192h0M860 1190.2h0M860.8 1188.9h0M861.7 1195.1h0M862.6 1188.2h0M863.5 1189.2h0M864.3 1185.5h0M865.2 1189.7h0M866.1 1188.2h0M866.9 1189.3h0M867.8 1187.5h0M868.7 1198.5h0M869.5 1191.8h0M870.4 1186.7h0M871.3 1187h0M872.2 1189.2h0M873 1184.8h0M873.9 1191.3h0M874.8 1183.6h0M875.6 1186.7h0M876.5 1182.9h0M877.4 1186.9h0M878.3 1187.2h0M879.1 1188.9h0M880 1179.1h0M880.9 1184.9h0M881.7 1180.2h0M882.6 1188h0M883.5 1182.6h0M884.3 1187.7h0M885.2 1181.3h0M886.1 1179.1h0M887 1182.3h0M887.8 1184.8h0M888.7 1182h0M889.6 1179.9h0M890.4 1180.2h0M891.3 1181.1h0M892.2 1177.1h0M893.1 1182.9h0M893.9 1178.9h0M894.8 1178h0M895.7 1171.6h0M896.5 1172.2h0M897.4 1173.6h0M898.3 1181.4h0M899.1 1173.9h0M900 1170.3h0M900.9 1170.3h0M901.8 1176.9h0M902.6 1176.5h0M903.5 1177.8h0M904.4 1171.4h0M905.2 1173.7h0M906.1 1165.9h0M907 1170.5h0M907.9 1166.8h0M908.7 1168.5h0M909.6 1167.1h0M910.5 1168.8h0M911.3 1167.1h0M912.2 1173.4h0M913.1 1167.4h0M913.9 1169.6h0M914.8 1163.7h0M915.7 1163h0M916.6 1163.3h0M917.4 1168.3h0M918.3 1159.8h0M919.2 1169.6h0M920 1160.9h0M920.9 1166.1h0M921.8 1160.1h0M922.7 1160.5h0M923.5 1166.4h0M924.4 1159.9h0M925.3 1162.2h0M926.1 1160.9h0M927 1159.5h0M927.9 1159.3h0M928.7 1156.6h0M929.6 1163.6h0M930.5 1162.8h0M931.4 1157.5h0M932.2 1156.2h0M933.1 1162.1h0M934 1153.4h0M934.8 1160.6h0M935.7 1152.1h0M936.6 1159.4h0M937.5 1155h0M938.3 1160.4h0M939.2 1153.9h0M940.1 1152.4h0M940.9 1154h0M941.8 1151.8h0M942.7 1153.3h0M943.5 1158.6h0M944.4 1151.8h0M945.3 1151.3h0M946.2 1152.5h0M947 1152.5h0M947.9 1144.1h0M948.8 1149.9h0M949.6 1151.2h0M950.5 1149h0M951.4 1146.2h0M952.3 1147.8h0M953.1 1139.7h0M954 1146.3h0M954.9 1144.8h0M955.7 1147.4h0M956.6 1142.2h0M957.5 1139.2h0M958.3 1145.4h0M959.2 1146.8h0M960.1 1143.6h0M961 1147.5h0M961.8 1138h0M962.7 1140.6h0M963.6 1139.2h0M964.4 1146.4h0M965.3 1132h0M966.2 1139.5h0M967.1 1133.9h0M967.9 1141h0M968.8 1139.7h0M969.7 1137.5h0M970.5 1130.6h0M971.4 1137.7h0M972.3 1132.7h0M973.1 1132h0M974 1135.4h0M974.9 1134.3h0M975.8 1134h0M976.6 1131h0M977.5 1134.4h0M978.4 1129.8h0M979.2 1133.5h0M980.1 1127.8h0M981 1133.6h0M981.9 1131.4h0M982.7 1123.8h0M983.6 1131h0M984.5 1128.8h0M985.3 1127.9h0M986.2 1125.4h0M987.1 1131h0M987.9 1125.5h0M988.8 1119.8h0M989.7 1123.9h0M990.6 1129.8h0M991.4 1125.3h0M992.3 1130.8h0M993.2 1121.4h0M994 1134.8h0M994.9 1125.2h0M995.8 1127h0M996.7 1125.3h0M997.5 1128.1h0M998.4 1121.4h0M999.3 1122.4h0M1000.1 1123.5h0M1001 1124.9h0M1001.9 1113.7h0M1002.7 1119.5h0M1003.6 1120.5h0M1004.5 1122.7h0M1005.4 1119.3h0M1006.2 1123.8h0M1007.1 1118.2h0M1008 1126.1h0M1008.8 1115.3h0M1009.7 1119.3h0M1010.6 1117.5h0M1011.5 1122.2h0M1012.3 1118.4h0M1013.2 1123.9h0M1014.1 1113.8h0M1014.9 1122.3h0M1015.8 1116.1h0M1016.7 1114.8h0M1017.5 1113.5h0M1018.4 1123.6h0M1019.3 1115.3h0M1020.2 1114.6h0M1021 1104.3h0M1021.9 1112.7h0M1022.8 1108.6h0M1023.6 1114.2h0M1024.5 1117h0M1025.4 1115.3h0M1026.3 1109.7h0M1027.1 1109h0M1028 1103.9h0M1028.9 1110.2h0M1029.7 1105.2h0M1030.6 1119.3h0M1031.5 1104.3h0M1032.3 1106.8h0M1033.2 1108.1h0M1034.1 1108h0M1035 1099.6h0M1035.8 1110.8h0M1036.7 1101.5h0M1037.6 1101.5h0M1038.4 1102.4h0M1039.3 1106.2h0M1040.2 1099.3h0M1041.1 1105.8h0M1041.9 1101.9h0M1042.8 1099.7h0M1043.7 1091.7h0M1044.5 1093.9h0M1045.4 1096.8h0M1046.3 1104.4h0M1047.1 1099.4h0M1048 1103.9h0M1048.9 1101.1h0M1049.8 1098.5h0M1050.6 1097.5h0M1051.5 1092.3h0M1052.4 1095.1h0M1053.2 1097.3h0M1054.1 1091.3h0M1055 1093.4h0M1055.9 1086.8h0M1056.7 1094h0M1057.6 1093.3h0M1058.5 1091.1h0M1059.3 1089.6h0M1060.2 1088.9h0M1061.1 1087.5h0M1061.9 1086.6h0M1062.8 1086.7h0M1063.7 1087.9h0M1064.6 1085.2h0M1065.4 1085.4h0M1066.3 1079.2h0M1067.2 1085.1h0M1068 1085.2h0M1068.9 1090.2h0M1069.8 1079.7h0M1070.7 1086.7h0M1071.5 1082.2h0M1072.4 1084.3h0M1073.3 1073.6h0M1074.1 1083h0M1075 1074.5h0M1075.9 1084.8h0M1076.7 1079.2h0M1077.6 1081.9h0M1078.5 1067.3h0M1079.4 1080.9h0M1080.2 1076.8h0M1081.1 1073.7h0M1082 1076.6h0M1082.8 1077h0M1083.7 1071.8h0M1084.6 1073.5h0M1085.5 1068.2h0M1086.3 1073.6h0M1087.2 1080.8h0M1088.1 1074.8h0M1088.9 1070.6h0M1089.8 1071.2h0M1090.7 1067h0M1091.5 1070.7h0M1092.4 1065.3h0M1093.3 1074.6h0M1094.2 1066.5h0M1095 1073.7h0M1095.9 1062.8h0M1096.8 1073.1h0M1097.6 1065.7h0M1098.5 1071.4h0M1099.4 1064.6h0M1100.2 1065.5h0M1101.1 1068.2h0M1102 1066.4h0M1102.9 1063.3h0M1103.7 1064.5h0M1104.6 1064h0M1105.5 1065.7h0M1106.3 1063.8h0M1107.2 1067.7h0M1108.1 1060.2h0M1109 1061.5h0M1109.8 1063.5h0M1110.7 1068.8h0M1111.6 1063.9h0M1112.4 1061.5h0M1113.3 1063.2h0M1114.2 1066.2h0M1115 1061.7h0M1115.9 1065.9h0M1116.8 1059.3h0M1117.7 1064.7h0M1118.5 1062.4h0M1119.4 1060.8h0M1120.3 1053.1h0M1121.1 1060.7h0M1122 1057.1h0M1122.9 1053.5h0M1123.8 1052.7h0M1124.6 1060.2h0M1125.5 1053.1h0M1126.4 1057.1h0M1127.2 1047.9h0M1128.1 1058.3h0M1129 1056.5h0M1129.8 1053.2h0M1130.7 1046.8h0M1131.6 1048.6h0M1132.5 1050.8h0M1133.3 1051.3h0M1134.2 1043.7h0M1135.1 1054h0M1135.9 1048.2h0M1136.8 1051.3h0M1137.7 1039.1h0M1138.6 1048.3h0M1139.4 1046.5h0M1140.3 1043.9h0M1141.2 1046.9h0M1142 1052.3h0M1142.9 1046.6h0M1143.8 1044.4h0M1144.6 1040.2h0M1145.5 1049.4h0M1146.4 1045.3h0M1147.3 1049.7h0M1148.1 1045.3h0M1149 1044.6h0M1149.9 1039.3h0M1150.7 1038.1h0M1151.6 1042.7h0M1152.5 1051.4h0M1153.4 1037.9h0M1154.2 1041.5h0M1155.1 1041h0M1156 1043.8h0M1156.8 1033.6h0M1157.7 1039.5h0M1158.6 1033.9h0M1159.4 1048.1h0M1160.3 1034.5h0M1161.2 1043.5h0M1162.1 1042.8h0M1162.9 1046.4h0M1163.8 1040.6h0M1164.7 1044.9h0M1165.5 1030.9h0M1166.4 1037.6h0M1167.3 1032h0M1168.2 1037.1h0M1169 1042.5h0M1169.9 1031.3h0M1170.8 1034.4h0M1171.6 1031.8h0M1172.5 1036h0M1173.4 1039.4h0M1174.2 1028.7h0M1175.1 1041h0M1176 1029.7h0M1176.9 1037.3h0M1177.7 1029.4h0M1178.6 1029.9h0M1179.5 1026h0M1180.3 1030.4h0M1181.2 1028.4h0M1182.1 1030.2h0M1183 1033.3h0M1183.8 1028.1h0M1184.7 1022.5h0M1185.6 1025h0M1186.4 1020h0M1187.3 1021.1h0M1188.2 1017.9h0M1189 1027.7h0M1189.9 1020h0M1190.8 1022.5h0M1191.7 1019.6h0M1192.5 1025.4h0M1193.4 1019h0M1194.3 1022.9h0M1195.1 1013.5h0M1196 1017.9h0M1196.9 1011.3h0M1197.8 1017h0M1198.6 1009.7h0M1199.5 1014.6h0M1200.4 1010.5h0M1201.2 1013.7h0M1202.1 1009h0M1203 1011.9h0M1203.8 1013.7h0M1204.7 1011.6h0M1205.6 1004.8h0M1206.5 1012.6h0M1207.3 1003.7h0M1208.2 1007.4h0M1209.1 1006.9h0M1209.9 1004.5h0M1210.8 994.6h0M1211.7 1010.5h0M1212.6 1008.6h0M1213.4 1002.8h0M1214.3 1001h0M1215.2 1009.8h0M1216 996.4h0M1216.9 1003.9h0M1217.8 998.3h0M1218.6 1005.6h0M1219.5 995.1h0M1220.4 1009h0M1221.3 1001.1h0M1222.1 1006.5h0M1223 1000h0M1223.9 997.6h0M1224.7 1000.2h0M1225.6 999.9h0M1226.5 1000.3h0M1227.4 1001.2h0M1228.2 998.8h0M1229.1 1003.1h0M1230 1002.2h0M1230.8 1006.1h0M1231.7 995.5h0M1232.6 1002.9h0M1233.4 1003.7h0M1234.3 1004.3h0M1235.2 996.4h0M1236.1 1004h0M1236.9 1000.5h0M1237.8 1010.5h0M1238.7 1004.6h0M1239.5 1011.3h0M1240.4 1015h0M1241.3 1008h0M1242.2 1006.6h0M1243 1007.7h0M1243.9 1003.1h0M1244.8 1014.8h0M1245.6 1007.9h0M1246.5 1015.7h0M1247.4 998.1h0M1248.2 1005.1h0M1249.1 1008.2h0M1250 1009.6h0M1250.9 1000.3h0M1251.7 999.7h0M1252.6 990.5h0M1253.5 987.8h0M1254.3 982.1h0M1255.2 976.8h0M1256.1 977.5h0M1257 984.6h0M1257.8 990.5h0M1258.7 989h0M1259.6 994h0M1260.4 1001.6h0M1261.3 997.9h0M1262.2 1005h0M1263 1017.2h0M1263.9 1023.2h0M1264.8 1028.1h0M1265.7 1044.9h0M1266.5 1055.4h0M1267.4 1052.6h0M1268.3 1068.8h0M1269.1 1077.7h0M1270 1082.1h0M1270.9 1096.9h0M1271.8 1094h0M1272.6 1100.1h0M1273.5 1106h0M1274.4 1115h0M1275.2 1110.1h0M1276.1 1113.1h0M1277 1094h0M1277.8 1065.2h0M1278.7 975.5h0M1279.6 814.3h0M1280.5 578h0M1281.3 408.5h0M1282.2 453.7h0M1283.1 674.5h0M1283.9 860.1h0M1284.8 994.4h0M1285.7 1065.2h0M1286.6 1094.8h0M1287.4 1117.9h0M1288.3 1133.2h0M1289.2 1133.4h0M1290 1135.6h0M1290.9 1139.7h0M1291.8 1146.9h0M1292.6 1146.1h0M1293.5 1154.8h0M1294.4 1151.2h0M1295.3 1156.1h0M1296.1 1158.2h0M1297 1165.5h0M1297.9 1157.6h0M1298.7 1159.5h0M1299.6 1157.8h0M1300.5 1167.7h0M1301.4 1164.3h0M1302.2 1162.5h0M1303.1 1162.2h0M1304 1167.9h0M1304.8 1165.3h0M1305.7 1162.4h0M1306.6 1159.6h0M1307.4 1167.5h0M1308.3 1166.5h0M1309.2 1166.8h0M1310.1 1154.8h0M1310.9 1160.6h0M1311.8 1151.1h0M1312.7 1151.7h0M1313.5 1145.2h0M1314.4 1146.5h0M1315.3 1145.6h0M1316.2 1156h0M1317 1150.3h0M1317.9 1153.4h0M1318.8 1148.9h0M1319.6 1150.4h0M1320.5 1148.7h0M1321.4 1158.2h0M1322.2 1154.9h0M1323.1 1163.3h0M1324 1156.2h0M1324.9 1160.4h0M1325.7 1153.3h0M1326.6 1163.5h0M1327.5 1154.3h0M1328.3 1168.1h0M1329.2 1158.8h0M1330.1 1164.8h0M1331 1157.9h0M1331.8 1164.6h0M1332.7 1160.5h0M1333.6 1170.7h0M1334.4 1165.1h0M1335.3 1164.9h0M1336.2 1159.7h0M1337 1169.2h0M1337.9 1165h0M1338.8 1167.2h0M1339.7 1169.3h0M1340.5 1171h0M1341.4 1168.9h0M1342.3 1170.8h0M1343.1 1167.9h0M1344 1172.3h0M1344.9 1166.2h0M1345.8 1177h0M1346.6 1173.7h0M1347.5 1171.7h0M1348.4 1174.3h0M1349.2 1181.6h0M1350.1 1176.3h0M1351 1183.3h0M1351.8 1175.4h0M1352.7 1179.8h0M1353.6 1172.7h0M1354.5 1177.4h0M1355.3 1171.4h0M1356.2 1177.6h0M1357.1 1177.7h0M1357.9 1181.4h0M1358.8 1179h0M1359.7 1178.7h0M1360.6 1171.2h0M1361.4 1178h0M1362.3 1172.1h0M1363.2 1180.5h0M1364 1176.8h0M1364.9 1176.5h0M1365.8 1166.1h0M1366.6 1170.6h0M1367.5 1168.5h0M1368.4 1168.7h0M1369.3 1168.2h0M1370.1 1171.6h0M1371 1167.9h0M1371.9 1169h0M1372.7 1161.6h0M1373.6 1164.6h0M1374.5 1162.6h0M1375.4 1169.7h0M1376.2 1166.3h0M1377.1 1167.2h0M1378 1161h0M1378.8 1164.6h0M1379.7 1160.8h0M1380.6 1164.9h0M1381.4 1159.2h0M1382.3 1154.8h0M1383.2 1157.9h0M1384.1 1158.9h0M1384.9 1153.6h0M1385.8 1160.9h0M1386.7 1157.5h0M1387.5 1160.8h0M1388.4 1153.2h0M1389.3 1162.9h0M1390.2 1161.5h0M1391 1164h0M1391.9 1156.8h0M1392.8 1166.7h0M1393.6 1163.1h0M1394.5 1164.2h0M1395.4 1160.6h0M1396.2 1161h0M1397.1 1155.7h0M1398 1161.9h0M1398.9 1155h0M1399.7 1159.3h0M1400.6 1164.1h0M1401.5 1159.5h0M1402.3 1153.9h0M1403.2 1151.8h0M1404.1 1153.1h0M1405 1158.2h0M1405.8 1150h0M1406.7 1154.5h0M1407.6 1144.6h0M1408.4 1156.2h0M1409.3 1148.9h0M1410.2 1155.9h0M1411 1154h0M1411.9 1152.2h0M1412.8 1151.4h0M1413.7 1152h0M1414.5 1146.4h0M1415.4 1149h0M1416.3 1142.9h0M1417.1 1152.2h0M1418 1146.7h0M1418.9 1143.8h0M1419.7 1145.1h0M1420.6 1143.2h0M1421.5 1136.5h0M1422.4 1147.6h0M1423.2 1136.2h0M1424.1 1147.3h0M1425 1140.7h0M1425.8 1146.4h0M1426.7 1141.7h0M1427.6 1147.2h0M1428.5 1141.2h0M1429.3 1145.5h0M1430.2 1140.9h0M1431.1 1147h0M1431.9 1138.9h0M1432.8 1146.6h0M1433.7 1143.3h0M1434.5 1140.8h0M1435.4 1137.5h0M1436.3 1137h0M1437.2 1132.4h0M1438 1134.6h0M1438.9 1127.4h0M1439.8 1123.2h0M1440.6 1123.9h0M1441.5 1128.6h0M1442.4 1130.1h0M1443.3 1136.6h0M1444.1 1126.9h0M1445 1141.9h0M1445.9 1135.1h0M1446.7 1137.3h0M1447.6 1134.9h0M1448.5 1141h0M1449.3 1138.7h0M1450.2 1138.5h0M1451.1 1136.5h0M1452 1134.8h0M1452.8 1136.6h0M1453.7 1139.3h0M1454.6 1134.7h0M1455.4 1142.4h0M1456.3 1141.7h0M1457.2 1144h0M1458.1 1135.9h0M1458.9 1147.6h0M1459.8 1139.4h0M1460.7 1144.9h0M1461.5 1140.7h0M1462.4 1148.5h0M1463.3 1146.3h0M1464.1 1149.7h0M1465 1145.7h0M1465.9 1149.8h0M1466.8 1145.8h0M1467.6 1153.9h0M1468.5 1146.2h0M1469.4 1151.3h0M1470.2 1147.6h0M1471.1 1149.4h0M1472 1149.9h0M1472.9 1135.8h0M1473.7 1126h0M1474.6 1106h0M1475.5 1090h0M1476.3 1077.4h0M1477.2 1068.1h0M1478.1 1053.1h0M1478.9 1060.1h0M1479.8 1069h0M1480.7 1078h0M1481.6 1088h0M1482.4 1103.9h0M1483.3 1111.9h0M1484.2 1126h0M1485 1141.9h0M1485.9 1146.4h0M1486.8 1147.5h0M1487.7 1149.8h0M1488.5 1151.6h0M1489.4 1146.4h0M1490.3 1149.4h0M1491.1 1155.3h0M1492 1165h0M1492.9 1155.9h0M1493.7 1158h0M1494.6 1163.4h0M1495.5 1164.9h0M1496.4 1163.2h0M1497.2 1167.6h0M1498.1 1163.5h0M1499 1171.9h0M1499.8 1171.1h0M1500.7 1175h0M1501.6 1170.9h0M1502.5 1181.1h0M1503.3 1176.4h0M1504.2 1184h0M1505.1 1178.5h0M1505.9 1189.2h0M1506.8 1188.8h0M1507.7 1196.5h0M1508.5 1192.2h0M1509.4 1199.5h0M1510.3 1196.5h0M1511.2 1207.6h0M1512 1207.7h0M1512.9 1215.5h0M1513.8 1212.2h0M1514.6 1217.3h0M1515.5 1221.4h0M1516.4 1227h0M1517.3 1225h0M1518.1 1230.6h0M1519 1223.8h0M1519.9 1208.9h0M1520.7 1198.5h0M1521.6 1188.7h0M1522.5 1171.5h0M1523.3 1147.6h0M1524.2 1098.8h0M1525.1 1040.8h0M1526 945.4h0M1526.8 898.2h0M1527.7 933.1h0M1528.6 1022.9h0M1529.4 1114.4h0M1530.3 1185.5h0M1531.2 1227.1h0M1532.1 1249.8h0M1532.9 1265h0M1533.8 1279.3h0M1534.7 1301h0M1535.5 1324.6h0M1536.4 1332.9h0M1537.3 1347h0M1538.1 1356.1h0M1539 1358.3h0M1539.9 1360.7h0M1540.8 1362.5h0M1541.6 1361.9h0M1542.5 1360.7h0M1543.4 1348.6h0M1544.2 1331.3h0M1545.1 1319.4h0M1546 1300.7h0M1546.9 1291h0M1547.7 1265.4h0M1548.6 1169.6h0M1549.5 1024.6h0M1550.3 919.9h0M1551.2 973.8h0M1552.1 1104.5h0M1552.9 1215.7h0M1553.8 1300.7h0M1554.7 1334h0M1555.6 1362.7h0M1556.4 1374.4h0M1557.3 1391.9h0M1558.2 1396.4h0M1559 1400.6h0M1559.9 1403.9h0M1560.8 1399.7h0M1561.7 1403.4h0M1562.5 1398.1h0M1563.4 1401.8h0M1564.3 1401.9h0M1565.1 1401.4h0M1566 1396.4h0M1566.9 1404.8h0M1567.7 1400.7h0M1568.6 1409.7h0M1569.5 1406.4h0M1570.4 1409.7h0M1571.2 1414.4h0M1572.1 1413h0M1573 1413.6h0M1573.8 1417.3h0M1574.7 1411.1h0M1575.6 1416.5h0M1576.5 1413.8h0M1577.3 1418.7h0M1578.2 1416.1h0M1579.1 1416.6h0M1579.9 1417.5h0M1580.8 1421.1h0M1581.7 1416.5h0M1582.5 1419.7h0M1583.4 1415h0M1584.3 1417.6h0M1585.2 1415.6h0M1586 1416.9h0M1586.9 1416.3h0M1587.8 1417.4h0M1588.6 1414.5h0M1589.5 1416.1h0M1590.4 1412.4h0M1591.3 1411.7h0M1592.1 1413.2h0M1593 1416.2h0M1593.9 1410.7h0M1594.7 1411.6h0M1595.6 1409.3h0M1596.5 1413.4h0M1597.3 1409.7h0M1598.2 1410.3h0M1599.1 1410.3h0M1600 1412.1h0M1600.8 1411.6h0M1601.7 1413.2h0M1602.6 1411.8h0M1603.4 1419h0M1604.3 1416.7h0M1605.2 1414.3h0M1606.1 1413.6h0M1606.9 1417h0M1607.8 1415.2h0M1608.7 1415.9h0M1609.5 1418.1h0M1610.4 1416.1h0M1611.3 1418.4h0M1612.1 1420.8h0M1613 1417h0M1613.9 1418.6h0M1614.8 1417.6h0M1615.6 1419.8h0M1616.5 1413.5h0M1617.4 1417h0M1618.2 1418h0M1619.1 1418.9h0M1620 1416h0M1620.9 1417h0M1621.7 1415.2h0M1622.6 1417.2h0M1623.5 1421.8h0M1624.3 1417.7h0M1625.2 1421.5h0M1626.1 1422.8h0M1626.9 1421.2h0M1627.8 1424.3h0M1628.7 1421.3h0M1629.6 1426.5h0M1630.4 1421.8h0M1631.3 1422.5h0M1632.2 1419.7h0M1633 1421.9h0M1633.9 1416.8h0M1634.8 1419.9h0M1635.7 1416.6h0M1636.5 1418.1h0M1637.4 1412.8h0M1638.3 1407.4h0M1639.1 1405.1h0M1640 1407.5h0M1640.9 1399.4h0M1641.7 1400.4h0M1642.6 1400h0M1643.5 1403.2h0M1644.4 1402.6h0M1645.2 1405.7h0M1646.1 1408.4h0M1647 1411.7h0M1647.8 1413.4h0M1648.7 1418.5h0M1649.6 1418.9h0M1650.5 1418.2h0M1651.3 1414.7h0M1652.2 1416.9h0M1653.1 1413.4h0M1653.9 1414.7h0M1654.8 1409.7h0M1655.7 1411h0M1656.5 1408.3h0M1657.4 1406h0M1658.3 1411.9h0M1659.2 1420.4h0M1660 1433.1h0M1660.9 1449.2h0M1661.8 1460.7h0M1662.6 1465.6h0M1663.5 1469.8h0M1664.4 1473.9h0M1665.3 1477.5h0M1666.1 1482h0M1667 1476.7h0M1667.9 1485.5h0M1668.7 1485.9h0M1669.6 1491.1h0M1670.5 1485.6h0M1671.3 1489h0M1672.2 1487.9h0M1673.1 1488h0M1674 1489.5h0M1674.8 1490.3h0M1675.7 1487.2h0M1676.6 1488.6h0M1677.4 1488.3h0M1678.3 1493.9h0M1679.2 1492.2h0M1680.1 1487.9h0M1680.9 1487.4h0M1681.8 1492.6h0M1682.7 1490.2h0M1683.5 1491.4h0M1684.4 1491.7h0M1685.3 1492.9h0M1686.1 1491.7h0M1687 1493.3h0M1687.9 1489.9h0M1688.8 1494.7h0M1689.6 1490.7h0M1690.5 1494.5h0M1691.4 1492.3h0M1692.2 1493h0M1693.1 1491.5h0M1694 1492.9h0M1694.9 1488.9h0M1695.7 1492.5h0M1696.6 1492h0M1697.5 1491h0M1698.3 1489.7h0M1699.2 1494.9h0M1700.1 1493.1h0M1700.9 1491.7h0M1701.8 1492.9h0M1702.7 1493.9h0M1703.6 1493.8h0M1704.4 1492.8h0M1705.3 1490.3h0M1706.2 1490.3h0M1707 1488.9h0M1707.9 1489.2h0M1708.8 1485.8h0M1709.6 1487h0M1710.5 1483.9h0M1711.4 1486.7h0M1712.3 1481.8h0M1713.1 1481.9h0M1714 1482.4h0M1714.9 1487.1h0M1715.7 1485.5h0M1716.6 1491h0M1717.5 1491.8h0M1718.4 1494.1h0M1719.2 1496.4h0M1720.1 1497.4h0M1721 1494.8h0M1721.8 1495.2h0M1722.7 1494.2h0M1723.6 1493.9h0M1724.4 1493.4h0M1725.3 1494.3h0M1726.2 1493.8h0M1727.1 1495h0M1727.9 1491.8h0M1728.8 1495.2h0M1729.7 1493.7h0M1730.5 1493.5h0M1731.4 1490.5h0M1732.3 1493.5h0M1733.2 1487.6h0M1734 1491.4h0M1734.9 1491h0M1735.8 1494.3h0M1736.6 1488.6h0M1737.5 1493h0M1738.4 1492.2h0M1739.2 1492.9h0M1740.1 1485.4h0M1741 1492.4h0M1741.9 1490.2h0M1742.7 1493.6h0M1743.6 1491h0M1744.5 1492.7h0M1745.3 1492.3h0M1746.2 1496.8h0M1747.1 1495h0M1748 1495.7h0M1748.8 1495.7h0M1749.7 1498.8h0M1750.6 1497.7h0M1751.4 1499.4h0M1752.3 1498h0M1753.2 1500.4h0M1754 1500.2h0M1754.9 1502.5h0M1755.8 1499.2h0M1756.7 1498.5h0M1757.5 1497.6h0M1758.4 1494.2h0M1759.3 1492.9h0M1760.1 1487.9h0M1761 1475.6h0M1761.9 1457.7h0M1762.8 1437.9h0M1763.6 1430.4h0M1764.5 1442.6h0M1765.4 1462.5h0M1766.2 1479.6h0M1767.1 1489.3h0M1768 1494.8h0M1768.8 1504.4h0M1769.7 1508.3h0M1770.6 1511.2h0M1771.5 1510.1h0M1772.3 1512h0M1773.2 1510.6h0M1774.1 1512.9h0M1774.9 1513.5h0M1775.8 1514.3h0M1776.7 1509.6h0M1777.6 1515.4h0M1778.4 1513.2h0M1779.3 1513.6h0M1780.2 1512.9h0M1781 1511.1h0M1781.9 1511.3h0M1782.8 1516h0M1783.6 1515.7h0M1784.5 1517.6h0M1785.4 1513.2h0M1786.3 1515.9h0M1787.1 1515.8h0M1788 1515.3h0M1788.9 1517.7h0M1789.7 1516.4h0M1790.6 1516.1h0M1791.5 1515.6h0M1792.4 1515.7h0M1793.2 1516.5h0M1794.1 1516.2h0M1795 1514.8h0M1795.8 1514.5h0M1796.7 1517.8h0M1797.6 1512.6h0M1798.4 1515.6h0M1799.3 1514.1h0M1800.2 1514.1h0M1801.1 1511.8h0M1801.9 1513.5h0M1802.8 1509.5h0M1803.7 1503h0M1804.5 1490.6h0M1805.4 1476.9h0M1806.3 1492h0M1807.2 1505.7h0M1808 1511.9h0M1808.9 1518.1h0M1809.8 1516.5h0M1810.6 1520.7h0M1811.5 1521.6h0M1812.4 1523.4h0M1813.2 1523h0M1814.1 1525.4h0M1815 1525.1h0M1815.9 1526h0M1816.7 1526.3h0M1817.6 1525.1h0M1818.5 1526.2h0M1819.3 1527.4h0M1820.2 1524.1h0M1821.1 1528.3h0M1822 1524h0M1822.8 1525.4h0M1823.7 1528.5h0M1824.6 1528.3h0M1825.4 1524.6h0M1826.3 1523.3h0M1827.2 1518h0M1828 1512.9h0M1828.9 1509.4h0M1829.8 1507.5h0M1830.7 1502.2h0M1831.5 1505.9h0M1832.4 1505.7h0M1833.3 1510.6h0M1834.1 1509.5h0M1835 1515.4h0M1835.9 1518.6h0M1836.8 1525.4h0M1837.6 1530.7h0M1838.5 1537.3h0M1839.4 1539.9h0M1840.2 1544.4h0M1841.1 1548.6h0M1842 1549.8h0M1842.8 1548.8h0M1843.7 1547.3h0M1844.6 1545.5h0M1845.5 1536.2h0M1846.3 1529h0M1847.2 1518.1h0M1848.1 1509.5h0M1848.9 1501.7h0M1849.8 1496.4h0M1850.7 1488.6h0M1851.6 1495h0M1852.4 1501.7h0M1853.3 1516.7h0M1854.2 1531.8h0M1855 1545.5h0M1855.9 1556.4h0M1856.8 1561.9h0M1857.6 1566.1h0M1858.5 1567.4h0M1859.4 1573h0M1860.3 1576.2h0M1861.1 1578.5h0M1862 1579.8h0" stroke="#00f" stroke-width="10" stroke-linecap="round"/>
</g>
</svg>
</body>
</html>
